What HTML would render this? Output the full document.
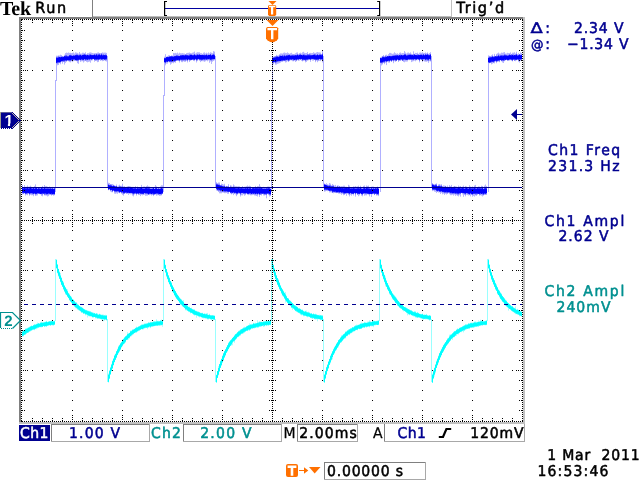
<!DOCTYPE html>
<html lang="en">
<head>
<meta charset="utf-8">
<title>Tek Run Trig'd</title>
<style>
html,body{margin:0;padding:0;background:#fff;width:640px;height:480px;overflow:hidden}
svg{position:absolute;left:0;top:0;will-change:transform}
</style>
</head>
<body>
<svg width="640" height="480" viewBox="0 0 640 480" style="display:block" text-rendering="geometricPrecision">
<rect x="0" y="0" width="640" height="480" fill="#fff" />
<g shape-rendering="crispEdges">
<rect x="19" y="17" width="506" height="2" fill="#808080" />
<rect x="19" y="17" width="2" height="407" fill="#808080" />
<rect x="19" y="422" width="506" height="2" fill="#c0c0c0" />
<rect x="523" y="17" width="2" height="407" fill="#c0c0c0" />
<rect x="93" y="16" width="359" height="1" fill="#bcbcbc" />
</g>
<defs><clipPath id="gc"><rect x="22" y="20" width="500" height="401"/></clipPath></defs>
<g clip-path="url(#gc)">
<g shape-rendering="crispEdges">
<rect x="55" y="80" width="1" height="112" fill="#b0b0ff" />
<rect x="56" y="60" width="1" height="21" fill="#b0b0ff" />
<rect x="163" y="95" width="1" height="97" fill="#b0b0ff" />
<rect x="164" y="60" width="1" height="36" fill="#b0b0ff" />
<rect x="271" y="102" width="1" height="90" fill="#b0b0ff" />
<rect x="272" y="60" width="1" height="43" fill="#b0b0ff" />
<rect x="380" y="60" width="1" height="132" fill="#b0b0ff" />
<rect x="488" y="60" width="1" height="132" fill="#b0b0ff" />
<rect x="107" y="56" width="1" height="18" fill="#b0b0ff" />
<rect x="107" y="70" width="1" height="118" fill="#b0b0ff" />
<rect x="215" y="56" width="1" height="18" fill="#b0b0ff" />
<rect x="215" y="70" width="1" height="118" fill="#b0b0ff" />
<rect x="323" y="56" width="1" height="18" fill="#b0b0ff" />
<rect x="323" y="70" width="1" height="118" fill="#b0b0ff" />
<rect x="431" y="56" width="1" height="18" fill="#b0b0ff" />
<rect x="431" y="70" width="1" height="118" fill="#b0b0ff" />
</g>
<path d="M22.5 185.0V194.6M23.5 187.8V194.1M24.5 185.1V193.6M25.5 186.8V195.5M26.5 186.7V194.7M27.5 185.5V195.2M28.5 186.7V193.4M29.5 186.6V195.7M30.5 185.7V194.8M31.5 186.8V195.3M32.5 188.1V195.2M33.5 187.0V196.2M34.5 186.1V194.3M35.5 184.4V196.0M36.5 186.9V195.6M37.5 188.4V195.4M38.5 187.3V193.9M39.5 187.7V194.2M40.5 187.2V194.2M41.5 187.6V195.9M42.5 185.9V196.3M43.5 188.3V194.2M44.5 185.0V195.5M45.5 186.3V195.5M46.5 186.2V195.7M47.5 186.7V196.5M48.5 187.5V196.1M49.5 186.5V195.1M50.5 187.1V194.9M51.5 187.9V195.7M52.5 186.9V194.7M53.5 187.3V195.7M54.5 187.9V195.2M56.5 55.7V64.4M57.5 55.8V65.3M58.5 55.4V65.0M59.5 55.5V63.2M60.5 54.7V64.3M61.5 55.1V61.5M62.5 56.3V63.7M63.5 56.3V61.9M64.5 54.7V64.6M65.5 53.1V62.9M66.5 52.6V61.9M67.5 52.9V61.0M68.5 52.5V61.3M69.5 52.9V62.1M70.5 52.8V62.4M71.5 53.1V61.2M72.5 52.9V62.1M73.5 52.5V61.2M74.5 53.5V61.0M75.5 52.4V60.7M76.5 52.6V61.2M77.5 52.9V63.2M78.5 53.6V63.8M79.5 52.0V60.2M80.5 53.5V61.9M81.5 53.5V61.3M82.5 52.7V61.2M83.5 52.7V62.5M84.5 53.0V61.4M85.5 52.3V60.7M86.5 54.0V61.8M87.5 53.1V62.3M88.5 53.2V61.9M89.5 52.5V61.6M90.5 52.4V62.7M91.5 52.7V60.6M92.5 53.0V60.3M93.5 53.3V59.2M94.5 53.1V61.7M95.5 53.1V60.9M96.5 53.4V61.1M97.5 52.6V62.2M98.5 52.4V61.9M99.5 53.1V60.0M100.5 53.1V60.9M101.5 52.9V60.4M102.5 52.4V61.2M103.5 52.7V61.0M104.5 52.6V60.4M105.5 52.6V61.1M106.5 52.9V61.5M108.5 182.7V190.2M109.5 183.0V189.6M110.5 184.4V191.5M111.5 184.0V192.2M112.5 184.0V192.3M113.5 184.6V190.7M114.5 185.2V193.6M115.5 185.8V193.8M116.5 184.5V193.4M117.5 186.4V193.8M118.5 185.6V192.8M119.5 184.7V193.2M120.5 185.8V192.6M121.5 185.8V193.6M122.5 183.7V194.8M123.5 186.4V195.7M124.5 186.0V194.0M125.5 186.9V193.1M126.5 186.7V193.5M127.5 186.3V193.9M128.5 186.0V194.9M129.5 186.1V194.0M130.5 186.4V194.3M131.5 186.8V194.2M132.5 186.8V195.6M133.5 186.8V196.4M134.5 187.1V194.5M135.5 186.1V193.8M136.5 187.4V195.6M137.5 186.5V193.8M138.5 187.3V195.1M139.5 187.9V195.0M140.5 187.3V196.1M141.5 184.9V194.9M142.5 186.9V195.4M143.5 186.5V194.8M144.5 186.4V194.7M145.5 186.8V195.8M146.5 186.1V195.7M147.5 185.4V195.6M148.5 186.3V194.8M149.5 186.5V195.2M150.5 187.4V194.6M151.5 188.4V195.6M152.5 187.4V194.9M153.5 187.8V196.1M154.5 186.9V194.8M155.5 185.1V194.6M156.5 186.4V195.7M157.5 187.3V195.3M158.5 187.2V195.2M159.5 188.3V195.9M160.5 186.4V195.7M161.5 185.3V195.4M162.5 185.4V193.8M164.5 56.7V63.7M165.5 54.2V65.3M166.5 56.9V63.6M167.5 56.5V63.6M168.5 55.3V62.2M169.5 55.3V62.5M170.5 56.1V64.7M171.5 55.3V63.6M172.5 55.6V62.6M173.5 53.0V63.3M174.5 53.2V62.3M175.5 52.9V62.8M176.5 53.3V61.0M177.5 52.6V61.0M178.5 53.6V61.1M179.5 52.7V62.5M180.5 53.2V60.8M181.5 53.3V62.1M182.5 53.1V62.2M183.5 53.4V61.3M184.5 53.5V61.8M185.5 54.0V61.8M186.5 53.1V60.9M187.5 52.9V62.4M188.5 52.8V60.2M189.5 52.5V62.0M190.5 53.0V60.7M191.5 53.2V60.3M192.5 52.7V59.8M193.5 52.4V60.9M194.5 51.6V61.2M195.5 53.5V60.0M196.5 52.7V62.5M197.5 52.2V61.1M198.5 52.3V60.1M199.5 52.3V60.8M200.5 53.2V62.1M201.5 53.2V61.2M202.5 53.8V61.2M203.5 52.7V61.3M204.5 52.4V61.8M205.5 53.4V61.3M206.5 52.7V60.5M207.5 53.4V61.3M208.5 52.4V60.4M209.5 53.4V62.8M210.5 52.3V61.5M211.5 52.7V64.0M212.5 53.2V61.7M213.5 51.1V61.0M214.5 51.6V60.3M216.5 182.2V190.5M217.5 183.2V190.6M218.5 182.5V192.0M219.5 182.5V193.3M220.5 184.9V193.3M221.5 183.6V193.3M222.5 184.0V192.5M223.5 184.5V192.7M224.5 183.8V193.2M225.5 186.2V193.2M226.5 185.9V193.0M227.5 186.4V193.8M228.5 184.2V193.9M229.5 187.2V192.0M230.5 185.2V193.5M231.5 185.6V194.4M232.5 186.5V193.7M233.5 184.4V195.1M234.5 185.5V193.7M235.5 186.2V194.4M236.5 186.2V196.2M237.5 186.4V194.7M238.5 186.2V193.9M239.5 186.3V193.9M240.5 188.1V196.5M241.5 187.2V195.3M242.5 186.0V195.4M243.5 187.3V194.3M244.5 186.7V195.7M245.5 186.6V195.1M246.5 186.2V193.5M247.5 185.5V194.7M248.5 186.2V195.2M249.5 185.7V194.7M250.5 186.1V195.3M251.5 188.4V195.3M252.5 187.0V195.1M253.5 187.0V194.9M254.5 187.6V195.5M255.5 185.9V195.6M256.5 187.1V196.0M257.5 186.1V196.5M258.5 186.2V194.6M259.5 184.2V196.9M260.5 186.4V195.0M261.5 187.6V195.5M262.5 187.9V194.0M263.5 186.8V195.4M264.5 187.0V195.5M265.5 188.4V195.1M266.5 187.6V198.3M267.5 186.6V194.0M268.5 186.5V195.1M269.5 186.7V196.5M270.5 187.7V196.0M272.5 56.3V64.5M273.5 56.7V64.3M274.5 56.0V63.1M275.5 56.1V64.7M276.5 54.8V64.6M277.5 55.6V63.9M278.5 55.4V63.5M279.5 54.3V63.2M280.5 53.4V62.6M281.5 53.4V61.9M282.5 53.5V61.9M283.5 52.8V61.2M284.5 52.5V61.2M285.5 52.9V62.5M286.5 53.1V62.2M287.5 52.4V61.2M288.5 53.1V61.9M289.5 53.7V61.1M290.5 53.2V60.3M291.5 52.8V60.5M292.5 53.8V61.2M293.5 54.0V61.3M294.5 53.9V60.5M295.5 53.3V62.0M296.5 52.6V61.2M297.5 52.4V60.2M298.5 53.9V60.9M299.5 53.1V60.5M300.5 52.7V60.0M301.5 53.4V60.8M302.5 52.3V61.4M303.5 51.8V60.9M304.5 52.8V60.6M305.5 53.1V62.4M306.5 53.0V61.9M307.5 52.0V60.6M308.5 53.9V60.3M309.5 53.0V60.0M310.5 52.9V61.8M311.5 53.1V60.0M312.5 53.0V60.6M313.5 52.2V60.6M314.5 52.8V59.7M315.5 52.9V62.2M316.5 52.4V60.7M317.5 52.0V62.2M318.5 52.4V61.1M319.5 52.4V60.8M320.5 52.6V61.1M321.5 54.0V59.7M322.5 50.7V62.4M324.5 183.5V191.7M325.5 184.0V191.4M326.5 183.2V191.0M327.5 184.2V191.2M328.5 184.7V190.6M329.5 183.0V192.5M330.5 183.6V192.3M331.5 185.3V192.4M332.5 184.0V193.0M333.5 184.8V193.3M334.5 185.6V192.6M335.5 184.9V192.7M336.5 186.4V193.1M337.5 185.4V192.7M338.5 185.5V193.6M339.5 186.1V193.7M340.5 186.4V193.7M341.5 186.1V194.8M342.5 186.2V193.9M343.5 185.7V195.2M344.5 185.7V194.8M345.5 186.7V193.8M346.5 186.7V195.8M347.5 187.1V193.4M348.5 184.8V194.8M349.5 185.6V196.4M350.5 187.9V194.7M351.5 187.1V195.7M352.5 187.4V194.3M353.5 186.3V195.5M354.5 186.7V193.7M355.5 186.0V196.6M356.5 186.7V193.4M357.5 186.4V195.0M358.5 185.7V196.2M359.5 187.3V195.3M360.5 185.8V193.6M361.5 188.0V195.7M362.5 187.6V196.3M363.5 185.9V193.6M364.5 185.5V195.7M365.5 187.8V195.3M366.5 185.5V195.4M367.5 185.9V194.3M368.5 185.6V194.7M369.5 187.6V196.4M370.5 187.3V194.2M371.5 186.7V197.0M372.5 186.5V194.3M373.5 186.6V193.9M374.5 187.6V195.1M375.5 188.0V193.9M376.5 187.1V195.6M377.5 186.6V195.4M378.5 188.6V196.1M380.5 57.5V64.5M381.5 56.7V65.5M382.5 56.0V64.5M383.5 55.0V63.0M384.5 56.0V64.2M385.5 54.9V62.7M386.5 54.7V65.1M387.5 55.6V61.5M388.5 54.1V62.6M389.5 52.9V62.7M390.5 52.9V61.1M391.5 53.4V61.8M392.5 53.8V60.9M393.5 53.5V63.2M394.5 52.3V61.2M395.5 53.2V61.9M396.5 53.7V61.1M397.5 53.3V59.7M398.5 54.1V62.0M399.5 52.8V60.4M400.5 52.5V61.0M401.5 53.4V60.2M402.5 53.0V61.0M403.5 53.1V61.9M404.5 51.1V62.3M405.5 52.5V61.6M406.5 53.5V61.6M407.5 52.7V61.5M408.5 52.5V60.1M409.5 53.1V60.2M410.5 52.4V59.7M411.5 53.7V62.1M412.5 54.0V61.5M413.5 51.3V61.2M414.5 53.7V60.6M415.5 52.9V61.3M416.5 53.0V60.3M417.5 52.6V60.2M418.5 53.8V59.9M419.5 52.7V62.4M420.5 52.5V60.1M421.5 52.8V60.0M422.5 52.3V62.1M423.5 52.9V60.8M424.5 53.0V61.5M425.5 52.5V61.7M426.5 53.2V61.8M427.5 52.4V61.3M428.5 53.8V62.9M429.5 53.0V61.2M430.5 52.2V61.5M432.5 183.2V191.1M433.5 184.1V190.6M434.5 184.3V191.6M435.5 183.9V191.9M436.5 183.4V193.0M437.5 186.2V191.9M438.5 184.4V192.6M439.5 184.0V192.4M440.5 184.6V194.0M441.5 184.2V192.8M442.5 186.5V194.3M443.5 185.4V193.7M444.5 185.6V194.9M445.5 185.8V193.8M446.5 186.7V194.5M447.5 185.5V193.7M448.5 186.9V193.2M449.5 185.1V194.2M450.5 186.1V195.2M451.5 184.9V195.2M452.5 187.7V194.7M453.5 186.6V195.6M454.5 186.0V194.6M455.5 186.3V195.9M456.5 186.5V195.2M457.5 187.2V195.9M458.5 185.6V196.4M459.5 186.5V195.2M460.5 186.0V196.6M461.5 187.2V193.1M462.5 186.6V194.4M463.5 185.6V196.8M464.5 187.0V195.0M465.5 186.0V196.3M466.5 186.5V194.7M467.5 187.7V195.1M468.5 187.3V195.5M469.5 185.3V195.2M470.5 186.6V196.4M471.5 187.5V194.7M472.5 186.4V196.7M473.5 188.2V195.9M474.5 185.5V196.6M475.5 184.9V195.5M476.5 187.2V195.9M477.5 187.8V194.6M478.5 186.4V194.0M479.5 186.6V195.6M480.5 187.7V195.3M481.5 185.7V195.7M482.5 186.0V196.5M483.5 187.4V195.5M484.5 185.7V194.4M485.5 184.5V194.6M486.5 186.0V195.0M488.5 55.4V63.6M489.5 55.8V63.3M490.5 56.4V62.6M491.5 55.4V64.4M492.5 54.4V63.7M493.5 56.1V63.1M494.5 53.9V63.4M495.5 56.0V61.6M496.5 53.9V63.2M497.5 53.3V61.7M498.5 52.6V61.3M499.5 53.6V62.2M500.5 53.5V60.4M501.5 52.6V61.2M502.5 52.8V62.5M503.5 52.4V63.0M504.5 52.1V61.2M505.5 53.5V60.3M506.5 53.5V59.8M507.5 52.8V60.6M508.5 53.1V60.9M509.5 53.1V60.2M510.5 52.4V60.2M511.5 53.9V60.6M512.5 52.7V61.4M513.5 52.7V59.9M514.5 52.3V60.9M515.5 53.5V61.2M516.5 51.8V60.4M517.5 54.0V60.0M518.5 53.2V61.7M519.5 54.0V62.6M520.5 52.3V60.8M521.5 53.0V60.0" stroke="#b4b4ff" stroke-width="1" fill="none"/>
<path d="M22.5 187.5V192.7M23.5 188.0V193.6M24.5 187.0V193.0M25.5 188.2V194.1M26.5 188.0V193.7M27.5 187.4V193.6M28.5 187.8V193.3M29.5 187.9V194.4M30.5 187.2V193.3M31.5 187.8V193.3M32.5 188.3V194.2M33.5 187.8V194.2M34.5 188.5V193.8M35.5 187.6V194.5M36.5 187.7V194.2M37.5 188.8V193.3M38.5 188.1V193.6M39.5 188.5V193.6M40.5 188.4V194.1M41.5 187.9V194.2M42.5 187.8V194.5M43.5 188.4V193.6M44.5 187.1V194.7M45.5 188.1V194.4M46.5 187.9V194.7M47.5 187.6V194.4M48.5 187.9V194.3M49.5 188.6V193.7M50.5 187.7V194.2M51.5 188.7V194.7M52.5 188.1V194.7M53.5 188.9V194.5M54.5 188.5V194.6M56.5 57.0V63.3M57.5 57.3V63.4M58.5 56.5V62.5M59.5 56.9V62.9M60.5 56.9V62.4M61.5 56.7V61.5M62.5 56.4V61.5M63.5 56.9V61.6M64.5 56.0V61.6M65.5 55.3V60.9M66.5 55.2V60.8M67.5 56.1V60.4M68.5 56.4V60.8M69.5 55.0V61.0M70.5 54.8V60.7M71.5 55.0V60.6M72.5 55.7V60.9M73.5 55.3V59.9M74.5 55.6V59.7M75.5 54.9V60.4M76.5 54.4V60.8M77.5 54.5V60.9M78.5 55.1V60.6M79.5 54.6V59.6M80.5 54.5V60.3M81.5 55.4V60.0M82.5 54.8V60.2M83.5 54.8V60.3M84.5 54.1V59.3M85.5 54.6V60.6M86.5 55.1V60.2M87.5 54.7V60.1M88.5 55.3V59.9M89.5 54.3V60.2M90.5 54.1V59.4M91.5 54.8V60.0M92.5 55.0V59.2M93.5 54.9V59.0M94.5 54.3V59.9M95.5 54.7V60.3M96.5 53.7V59.6M97.5 54.4V60.1M98.5 53.9V60.2M99.5 53.7V59.7M100.5 54.8V59.5M101.5 53.6V59.9M102.5 54.7V59.7M103.5 54.4V59.3M104.5 55.0V59.7M105.5 54.5V60.2M106.5 55.0V59.9M108.5 184.2V189.4M109.5 185.1V189.3M110.5 184.5V190.5M111.5 184.9V189.9M112.5 186.0V191.6M113.5 185.2V190.7M114.5 186.2V191.5M115.5 186.2V192.1M116.5 186.1V191.7M117.5 187.1V191.7M118.5 187.1V191.8M119.5 186.2V192.9M120.5 186.4V192.0M121.5 186.9V193.1M122.5 186.5V192.8M123.5 187.2V193.8M124.5 187.3V193.5M125.5 187.3V193.1M126.5 187.9V193.4M127.5 187.8V193.0M128.5 186.9V193.0M129.5 188.1V193.0M130.5 187.6V192.9M131.5 187.4V193.0M132.5 187.1V193.5M133.5 188.2V194.5M134.5 187.5V194.0M135.5 188.1V193.7M136.5 188.6V194.2M137.5 187.5V193.7M138.5 187.7V194.1M139.5 188.0V193.6M140.5 188.1V194.0M141.5 187.0V193.8M142.5 187.7V193.8M143.5 188.5V194.3M144.5 188.5V193.2M145.5 187.6V193.9M146.5 187.0V193.9M147.5 187.6V193.9M148.5 187.7V194.8M149.5 187.6V193.7M150.5 188.7V194.1M151.5 188.6V194.2M152.5 188.7V194.2M153.5 187.9V194.9M154.5 189.0V194.5M155.5 187.6V194.0M156.5 187.4V194.1M157.5 188.9V193.8M158.5 188.3V194.6M159.5 188.9V194.3M160.5 188.4V194.3M161.5 187.2V194.5M162.5 188.1V193.5M164.5 58.3V62.3M165.5 57.8V63.3M166.5 56.9V61.7M167.5 56.7V61.9M168.5 56.9V61.3M169.5 56.2V61.6M170.5 56.3V62.1M171.5 56.4V61.9M172.5 56.3V62.1M173.5 56.6V61.6M174.5 56.2V61.8M175.5 55.9V61.2M176.5 55.1V60.7M177.5 55.2V60.3M178.5 55.7V60.4M179.5 56.0V60.8M180.5 55.3V60.0M181.5 55.3V60.5M182.5 55.1V60.5M183.5 55.0V60.4M184.5 55.1V60.3M185.5 54.6V60.6M186.5 54.7V59.8M187.5 55.2V60.7M188.5 55.3V59.3M189.5 54.4V60.3M190.5 54.3V60.2M191.5 54.4V60.0M192.5 55.1V59.8M193.5 54.9V60.1M194.5 54.0V59.9M195.5 55.2V59.2M196.5 54.7V60.6M197.5 54.1V59.8M198.5 54.6V59.0M199.5 54.2V60.0M200.5 55.0V60.1M201.5 55.1V60.5M202.5 54.8V60.0M203.5 54.9V59.8M204.5 54.5V60.2M205.5 55.1V59.9M206.5 54.2V60.0M207.5 55.4V59.8M208.5 54.7V59.5M209.5 54.9V59.7M210.5 54.1V60.1M211.5 55.4V60.5M212.5 54.8V59.8M213.5 53.8V59.4M214.5 54.6V59.2M216.5 183.6V189.1M217.5 183.9V190.4M218.5 184.4V190.7M219.5 184.5V190.6M220.5 185.0V191.4M221.5 185.1V191.3M222.5 186.1V192.0M223.5 186.3V191.7M224.5 185.8V192.1M225.5 187.0V192.0M226.5 186.2V191.6M227.5 186.5V191.6M228.5 186.3V192.2M229.5 187.4V191.8M230.5 186.5V192.7M231.5 187.1V193.5M232.5 187.0V192.9M233.5 186.6V192.9M234.5 187.1V193.5M235.5 188.1V193.0M236.5 188.2V194.3M237.5 187.4V194.0M238.5 187.7V192.7M239.5 188.2V193.2M240.5 188.2V194.6M241.5 188.0V193.1M242.5 187.6V193.0M243.5 188.5V193.8M244.5 188.4V193.5M245.5 187.9V193.5M246.5 187.8V193.4M247.5 187.5V193.7M248.5 188.3V193.9M249.5 187.6V194.0M250.5 187.2V194.2M251.5 188.7V194.1M252.5 188.3V193.9M253.5 188.1V193.8M254.5 187.9V194.2M255.5 187.8V194.4M256.5 188.0V193.8M257.5 188.2V194.5M258.5 187.8V193.5M259.5 187.6V194.9M260.5 187.8V194.5M261.5 187.8V194.2M262.5 188.2V193.8M263.5 188.7V194.0M264.5 188.3V194.5M265.5 188.4V194.4M266.5 188.2V194.8M267.5 188.2V193.8M268.5 188.0V193.8M269.5 187.7V194.8M270.5 189.0V194.9M272.5 57.2V63.6M273.5 57.4V62.6M274.5 57.3V61.8M275.5 56.5V63.1M276.5 56.0V62.4M277.5 56.3V61.8M278.5 56.6V61.6M279.5 55.5V61.4M280.5 55.4V61.1M281.5 55.8V60.8M282.5 54.9V61.0M283.5 55.5V60.8M284.5 54.7V60.9M285.5 55.6V60.8M286.5 55.4V60.2M287.5 54.8V60.2M288.5 54.9V61.2M289.5 54.7V60.4M290.5 55.4V59.6M291.5 55.5V59.7M292.5 54.9V59.6M293.5 54.8V60.5M294.5 55.1V60.2M295.5 55.0V60.1M296.5 55.1V60.5M297.5 54.2V59.4M298.5 55.3V60.0M299.5 54.6V59.1M300.5 54.0V59.6M301.5 55.0V59.1M302.5 54.8V60.5M303.5 54.5V59.6M304.5 54.5V59.8M305.5 55.0V60.8M306.5 55.0V60.1M307.5 54.2V60.1M308.5 54.5V59.7M309.5 54.2V59.2M310.5 54.7V59.9M311.5 55.0V59.1M312.5 55.1V58.9M313.5 54.5V59.4M314.5 54.4V59.6M315.5 54.4V60.4M316.5 55.0V59.9M317.5 54.0V60.2M318.5 55.2V60.1M319.5 54.3V58.9M320.5 54.4V59.6M321.5 54.6V59.5M322.5 53.5V60.7M324.5 184.1V190.2M325.5 184.8V190.1M326.5 185.2V189.8M327.5 185.3V189.9M328.5 185.6V190.4M329.5 185.2V190.9M330.5 185.3V191.2M331.5 186.0V190.8M332.5 185.9V192.7M333.5 185.7V191.7M334.5 187.3V192.3M335.5 186.9V192.5M336.5 187.2V192.8M337.5 186.1V192.3M338.5 187.0V192.7M339.5 186.3V192.9M340.5 187.4V192.4M341.5 187.8V192.6M342.5 187.5V192.7M343.5 187.4V193.8M344.5 187.2V194.2M345.5 187.6V193.6M346.5 187.2V193.2M347.5 187.5V193.3M348.5 186.9V193.5M349.5 187.7V194.4M350.5 188.5V193.1M351.5 187.5V194.0M352.5 187.7V193.9M353.5 188.0V194.0M354.5 188.0V192.9M355.5 188.6V194.4M356.5 188.4V193.2M357.5 187.8V194.3M358.5 187.4V194.0M359.5 188.3V193.8M360.5 187.2V193.3M361.5 188.4V194.1M362.5 188.7V194.9M363.5 187.5V193.5M364.5 187.6V193.6M365.5 188.3V193.6M366.5 187.4V193.5M367.5 187.9V194.0M368.5 187.6V193.9M369.5 187.7V194.3M370.5 188.8V194.0M371.5 187.2V194.0M372.5 188.7V193.6M373.5 188.1V193.5M374.5 188.4V194.6M375.5 188.2V193.8M376.5 188.6V194.4M377.5 187.3V194.5M378.5 188.6V194.8M380.5 57.8V62.7M381.5 57.9V63.2M382.5 56.6V63.2M383.5 56.5V62.3M384.5 57.1V62.6M385.5 56.1V61.5M386.5 56.5V62.1M387.5 56.1V61.3M388.5 56.3V61.1M389.5 55.9V61.6M390.5 56.1V60.7M391.5 56.2V61.4M392.5 55.6V60.2M393.5 55.3V61.1M394.5 55.1V60.1M395.5 55.1V60.9M396.5 54.9V61.0M397.5 55.1V59.5M398.5 55.1V60.5M399.5 55.1V60.4M400.5 54.6V60.1M401.5 54.9V59.4M402.5 55.3V60.9M403.5 55.0V60.3M404.5 53.9V59.5M405.5 54.0V60.1M406.5 55.4V59.9M407.5 54.7V59.9M408.5 54.5V59.4M409.5 54.7V59.7M410.5 54.2V59.4M411.5 54.7V60.0M412.5 55.0V59.5M413.5 54.4V59.8M414.5 54.0V59.3M415.5 55.0V59.8M416.5 55.1V59.6M417.5 54.4V59.0M418.5 54.6V59.5M419.5 55.1V60.7M420.5 54.6V58.9M421.5 54.3V59.9M422.5 54.7V60.3M423.5 54.2V59.2M424.5 55.1V59.3M425.5 53.9V60.3M426.5 54.7V60.2M427.5 53.7V60.4M428.5 54.6V60.7M429.5 54.8V59.2M430.5 54.0V60.6M432.5 183.9V190.0M433.5 184.6V189.8M434.5 185.3V190.2M435.5 184.5V189.8M436.5 184.5V190.9M437.5 186.2V191.5M438.5 185.7V190.7M439.5 185.4V191.5M440.5 186.1V192.0M441.5 185.5V191.8M442.5 186.8V192.2M443.5 187.0V192.3M444.5 187.0V193.1M445.5 186.2V192.6M446.5 187.0V192.9M447.5 187.6V193.3M448.5 187.5V192.4M449.5 186.9V192.8M450.5 187.6V193.5M451.5 187.2V193.5M452.5 187.8V193.5M453.5 188.0V193.5M454.5 186.7V193.7M455.5 187.8V193.9M456.5 188.0V194.0M457.5 187.5V194.4M458.5 187.0V194.5M459.5 187.8V193.4M460.5 187.8V194.0M461.5 187.8V193.0M462.5 187.1V193.0M463.5 187.4V193.3M464.5 188.4V193.4M465.5 188.2V194.5M466.5 187.5V193.2M467.5 188.2V193.5M468.5 188.5V194.0M469.5 187.3V194.7M470.5 188.0V193.5M471.5 187.7V194.4M472.5 187.5V194.9M473.5 188.3V193.9M474.5 187.3V194.0M475.5 188.5V194.5M476.5 188.2V194.5M477.5 188.1V194.2M478.5 188.0V193.9M479.5 188.2V194.6M480.5 188.2V194.4M481.5 188.4V194.0M482.5 187.4V194.5M483.5 188.9V195.1M484.5 187.7V194.4M485.5 187.6V194.4M486.5 187.8V193.3M488.5 57.5V62.4M489.5 56.6V62.7M490.5 56.6V62.4M491.5 56.8V62.4M492.5 55.9V61.8M493.5 56.7V62.5M494.5 55.9V61.8M495.5 56.1V61.1M496.5 55.7V62.0M497.5 56.0V61.3M498.5 54.7V61.2M499.5 55.7V61.3M500.5 55.4V60.0M501.5 55.1V61.1M502.5 55.0V60.8M503.5 55.3V61.0M504.5 54.4V60.6M505.5 54.7V60.1M506.5 55.4V59.5M507.5 55.5V60.4M508.5 55.3V60.1M509.5 54.3V60.2M510.5 55.1V59.7M511.5 54.4V60.1M512.5 54.8V60.9M513.5 54.6V59.8M514.5 55.0V60.5M515.5 54.6V59.9M516.5 53.8V60.0M517.5 55.6V59.6M518.5 55.3V60.6M519.5 54.5V60.4M520.5 54.9V60.0M521.5 54.5V59.7" stroke="#5c5cff" stroke-width="1" fill="none"/>
<path d="M22.5 188.3V192.6M23.5 188.5V192.6M24.5 188.1V192.9M25.5 188.4V193.4M26.5 188.5V193.3M27.5 188.1V192.9M28.5 188.7V193.1M29.5 188.3V193.6M30.5 188.0V193.3M31.5 188.6V193.2M32.5 188.8V193.1M33.5 188.2V193.7M34.5 188.8V193.2M35.5 188.4V193.8M36.5 188.2V193.7M37.5 188.8V193.3M38.5 188.4V193.2M39.5 188.6V193.5M40.5 189.0V193.9M41.5 188.2V193.7M42.5 188.7V193.3M43.5 188.8V193.6M44.5 188.2V193.5M45.5 188.9V193.3M46.5 189.0V193.8M47.5 188.8V193.9M48.5 188.9V193.3M49.5 188.7V193.7M50.5 188.7V194.0M51.5 188.8V193.6M52.5 188.7V194.0M53.5 189.1V193.9M54.5 188.6V193.9M56.5 58.1V62.8M57.5 57.9V62.3M58.5 57.5V62.3M59.5 57.1V62.0M60.5 57.4V61.8M61.5 56.9V61.1M62.5 57.2V60.9M63.5 56.9V60.6M64.5 56.2V60.5M65.5 56.4V60.2M66.5 56.3V60.5M67.5 56.5V60.0M68.5 56.4V60.0M69.5 55.6V60.0M70.5 55.5V60.2M71.5 56.0V59.5M72.5 56.0V59.8M73.5 55.7V59.3M74.5 55.7V59.3M75.5 55.3V60.0M76.5 55.2V60.0M77.5 55.2V59.9M78.5 55.7V59.8M79.5 55.4V59.5M80.5 55.1V59.9M81.5 55.7V59.1M82.5 55.1V59.6M83.5 54.8V59.8M84.5 54.8V59.1M85.5 54.9V59.5M86.5 55.5V59.2M87.5 55.0V59.7M88.5 55.4V58.9M89.5 55.4V59.2M90.5 55.0V58.9M91.5 55.2V59.1M92.5 55.2V58.9M93.5 55.2V58.9M94.5 54.8V59.5M95.5 55.4V59.2M96.5 54.7V59.5M97.5 55.6V59.1M98.5 55.1V59.4M99.5 54.8V59.0M100.5 55.4V58.8M101.5 54.7V59.3M102.5 55.5V59.2M103.5 55.2V59.1M104.5 55.2V59.5M105.5 55.3V59.1M106.5 55.5V58.8M108.5 185.0V189.4M109.5 185.4V188.9M110.5 185.5V190.0M111.5 185.9V189.9M112.5 186.3V190.7M113.5 186.0V190.3M114.5 186.2V191.2M115.5 186.8V191.0M116.5 186.5V191.3M117.5 187.1V191.0M118.5 187.3V191.2M119.5 187.1V191.9M120.5 187.2V191.8M121.5 187.4V191.9M122.5 187.1V191.8M123.5 187.9V192.7M124.5 187.5V192.8M125.5 188.1V192.3M126.5 188.2V192.4M127.5 187.9V192.8M128.5 187.6V192.6M129.5 188.3V193.0M130.5 187.8V192.9M131.5 188.0V192.9M132.5 188.2V193.3M133.5 188.6V193.5M134.5 188.5V193.0M135.5 188.4V192.8M136.5 188.8V193.5M137.5 188.3V193.2M138.5 188.6V193.5M139.5 188.5V193.0M140.5 188.2V193.4M141.5 188.0V193.6M142.5 188.8V193.7M143.5 188.7V193.7M144.5 188.7V193.0M145.5 188.3V193.1M146.5 188.2V193.1M147.5 188.5V193.4M148.5 188.4V194.0M149.5 188.6V193.6M150.5 188.9V193.4M151.5 188.9V194.0M152.5 188.7V193.4M153.5 188.2V193.8M154.5 189.0V193.9M155.5 188.6V193.7M156.5 188.4V193.2M157.5 189.0V193.4M158.5 188.8V193.7M159.5 188.9V194.0M160.5 188.8V194.0M161.5 188.2V193.6M162.5 188.8V193.4M164.5 58.3V62.2M165.5 58.3V62.3M166.5 57.2V61.6M167.5 57.1V61.8M168.5 57.2V61.0M169.5 56.9V61.5M170.5 56.6V61.1M171.5 56.4V61.3M172.5 56.6V61.0M173.5 56.7V60.7M174.5 56.3V60.8M175.5 56.2V60.6M176.5 56.1V59.9M177.5 56.2V60.0M178.5 56.1V59.8M179.5 56.1V60.3M180.5 55.6V59.5M181.5 55.5V59.7M182.5 55.3V59.6M183.5 55.4V59.6M184.5 55.7V59.5M185.5 55.2V59.5M186.5 55.4V59.2M187.5 55.4V59.9M188.5 55.7V59.3M189.5 55.6V59.6M190.5 55.0V59.7M191.5 55.0V59.7M192.5 55.4V59.2M193.5 55.4V59.3M194.5 54.9V59.7M195.5 55.4V58.9M196.5 55.5V59.6M197.5 55.0V59.3M198.5 55.2V58.9M199.5 54.8V59.2M200.5 55.0V59.4M201.5 55.1V59.6M202.5 55.1V59.5M203.5 55.2V59.2M204.5 55.3V59.3M205.5 55.3V58.8M206.5 55.0V59.3M207.5 55.5V58.9M208.5 55.0V59.0M209.5 55.0V58.8M210.5 54.7V59.6M211.5 55.5V59.3M212.5 54.9V58.9M213.5 54.9V59.1M214.5 55.4V59.0M216.5 184.6V188.7M217.5 184.8V189.7M218.5 185.1V189.5M219.5 185.3V189.9M220.5 186.0V190.4M221.5 186.1V190.3M222.5 186.3V191.1M223.5 186.6V190.8M224.5 186.5V191.0M225.5 187.2V191.1M226.5 187.4V191.2M227.5 187.1V191.6M228.5 187.2V191.7M229.5 187.6V191.6M230.5 187.6V192.6M231.5 187.8V192.4M232.5 187.3V192.8M233.5 187.5V192.1M234.5 187.5V192.8M235.5 188.3V192.7M236.5 188.4V193.1M237.5 188.4V193.2M238.5 188.0V192.6M239.5 188.4V192.9M240.5 188.4V193.4M241.5 188.3V192.9M242.5 188.6V192.9M243.5 188.5V192.9M244.5 188.6V193.3M245.5 188.3V193.3M246.5 188.7V192.9M247.5 188.1V193.7M248.5 188.7V193.7M249.5 188.4V193.0M250.5 188.3V193.0M251.5 188.9V193.9M252.5 188.3V193.2M253.5 188.2V193.7M254.5 188.6V193.2M255.5 188.3V193.9M256.5 188.3V193.4M257.5 188.3V193.9M258.5 188.5V193.4M259.5 188.3V194.0M260.5 188.4V193.4M261.5 188.2V193.4M262.5 188.8V193.6M263.5 188.8V193.4M264.5 188.9V193.8M265.5 188.9V193.7M266.5 188.6V193.6M267.5 188.7V193.3M268.5 188.4V193.4M269.5 188.6V193.9M270.5 189.0V194.0M272.5 58.2V62.8M273.5 58.0V62.1M274.5 57.6V61.7M275.5 57.5V62.0M276.5 57.1V61.4M277.5 56.8V61.1M278.5 57.1V60.9M279.5 56.6V61.0M280.5 56.0V61.0M281.5 56.0V60.5M282.5 56.1V60.3M283.5 56.5V60.1M284.5 55.9V60.2M285.5 56.3V59.8M286.5 55.6V59.9M287.5 55.8V59.5M288.5 55.3V60.2M289.5 55.2V59.5M290.5 55.8V59.4M291.5 55.6V59.6M292.5 55.7V59.2M293.5 55.8V59.5M294.5 55.7V59.9M295.5 55.3V59.4M296.5 55.5V59.7M297.5 55.0V59.3M298.5 55.5V59.2M299.5 54.9V59.0M300.5 55.1V59.1M301.5 55.0V58.9M302.5 55.5V59.6M303.5 54.9V59.6M304.5 55.4V59.7M305.5 55.5V59.7M306.5 55.6V59.4M307.5 55.4V59.3M308.5 55.3V58.9M309.5 55.3V59.1M310.5 55.4V59.4M311.5 55.4V58.8M312.5 55.2V58.9M313.5 55.0V58.9M314.5 54.7V59.3M315.5 55.4V59.3M316.5 55.4V59.5M317.5 55.0V59.3M318.5 55.3V59.3M319.5 55.1V58.9M320.5 54.9V59.2M321.5 55.3V59.1M322.5 54.7V59.5M324.5 184.7V189.4M325.5 184.9V189.3M326.5 185.3V189.6M327.5 185.9V189.6M328.5 186.3V190.3M329.5 186.1V190.7M330.5 186.5V190.5M331.5 186.7V190.6M332.5 186.6V191.6M333.5 186.7V191.6M334.5 187.5V191.7M335.5 187.4V191.5M336.5 187.6V192.0M337.5 187.3V192.3M338.5 187.3V191.8M339.5 187.3V192.2M340.5 187.6V192.0M341.5 188.2V192.6M342.5 188.1V192.4M343.5 188.4V192.7M344.5 188.2V193.0M345.5 188.1V193.0M346.5 187.7V192.9M347.5 188.2V192.9M348.5 188.0V193.1M349.5 188.2V193.5M350.5 188.5V192.9M351.5 188.6V193.3M352.5 188.7V193.5M353.5 188.2V193.6M354.5 188.5V192.9M355.5 188.6V193.3M356.5 188.6V193.0M357.5 188.4V193.5M358.5 188.3V193.6M359.5 188.5V193.8M360.5 188.1V193.2M361.5 188.8V193.9M362.5 189.0V193.8M363.5 188.6V193.4M364.5 188.2V193.1M365.5 188.8V193.3M366.5 188.1V193.3M367.5 188.3V193.4M368.5 188.6V193.7M369.5 188.9V193.9M370.5 188.9V193.8M371.5 188.4V194.0M372.5 188.9V193.6M373.5 188.6V193.3M374.5 189.0V193.5M375.5 188.4V193.5M376.5 188.6V193.5M377.5 188.2V194.0M378.5 188.7V193.6M380.5 58.1V62.5M381.5 58.3V62.4M382.5 57.3V62.0M383.5 57.2V61.6M384.5 57.4V61.5M385.5 57.2V60.9M386.5 57.0V61.3M387.5 56.3V61.1M388.5 56.4V60.6M389.5 56.0V60.8M390.5 56.3V60.0M391.5 56.3V60.6M392.5 56.1V59.8M393.5 56.0V60.0M394.5 56.0V59.6M395.5 55.7V59.9M396.5 55.7V60.1M397.5 55.4V59.4M398.5 56.0V59.9M399.5 55.2V60.0M400.5 55.6V59.4M401.5 55.1V59.3M402.5 55.5V59.8M403.5 55.3V59.3M404.5 54.9V59.4M405.5 54.9V59.5M406.5 55.6V59.8M407.5 55.5V59.7M408.5 55.2V59.2M409.5 54.8V59.2M410.5 55.0V59.3M411.5 55.2V59.1M412.5 55.1V59.3M413.5 55.6V59.4M414.5 54.9V59.0M415.5 55.1V59.2M416.5 55.2V59.4M417.5 55.4V58.9M418.5 55.1V59.2M419.5 55.1V59.6M420.5 54.9V58.9M421.5 55.0V59.0M422.5 55.5V59.3M423.5 54.7V59.1M424.5 55.4V58.9M425.5 54.8V59.6M426.5 54.9V59.0M427.5 54.7V59.4M428.5 55.3V59.6M429.5 55.3V58.9M430.5 54.8V59.4M432.5 184.9V189.1M433.5 185.2V189.4M434.5 185.6V189.3M435.5 185.5V189.6M436.5 185.6V190.4M437.5 186.4V190.8M438.5 186.1V190.6M439.5 186.2V191.4M440.5 186.6V191.3M441.5 186.5V191.0M442.5 186.8V191.8M443.5 187.1V191.8M444.5 187.5V191.9M445.5 187.0V192.2M446.5 187.7V191.8M447.5 188.0V192.1M448.5 188.0V192.2M449.5 188.0V192.2M450.5 188.2V192.8M451.5 187.6V192.7M452.5 188.1V193.2M453.5 188.1V193.1M454.5 187.9V192.8M455.5 188.4V193.3M456.5 188.6V192.9M457.5 188.4V193.4M458.5 187.9V193.5M459.5 188.1V193.3M460.5 188.6V192.9M461.5 188.5V192.8M462.5 188.1V192.9M463.5 188.4V193.1M464.5 188.9V193.4M465.5 188.4V193.5M466.5 188.0V193.0M467.5 188.6V193.2M468.5 188.8V193.6M469.5 188.1V193.9M470.5 188.4V193.3M471.5 188.7V193.9M472.5 188.6V194.0M473.5 188.5V193.6M474.5 188.1V193.5M475.5 188.5V193.5M476.5 189.0V193.4M477.5 188.2V193.5M478.5 188.5V193.8M479.5 188.4V193.8M480.5 188.5V193.2M481.5 188.5V193.9M482.5 188.2V193.4M483.5 189.1V193.9M484.5 188.6V193.3M485.5 188.3V193.7M486.5 188.7V193.2M488.5 58.0V62.3M489.5 57.7V62.6M490.5 57.5V62.4M491.5 57.3V61.6M492.5 56.8V61.7M493.5 57.2V61.6M494.5 57.1V61.0M495.5 56.4V60.6M496.5 56.6V60.9M497.5 56.5V60.7M498.5 55.8V60.3M499.5 56.5V60.1M500.5 55.8V60.0M501.5 55.8V60.2M502.5 56.2V60.0M503.5 55.8V60.1M504.5 55.4V59.6M505.5 55.5V59.9M506.5 55.5V59.5M507.5 55.8V59.9M508.5 55.6V59.9M509.5 55.1V59.2M510.5 55.2V59.2M511.5 55.5V59.5M512.5 54.9V59.8M513.5 55.7V59.2M514.5 55.1V59.3M515.5 55.3V59.6M516.5 54.8V59.6M517.5 55.6V59.1M518.5 55.3V59.5M519.5 54.7V59.4M520.5 55.3V59.2M521.5 55.1V59.1" stroke="#0000ff" stroke-width="1" fill="none"/>
<g shape-rendering="crispEdges">
<rect x="55" y="259" width="1" height="62" fill="#9affff" />
<rect x="163" y="259" width="1" height="62" fill="#9affff" />
<rect x="271" y="259" width="1" height="62" fill="#9affff" />
<rect x="379" y="259" width="1" height="62" fill="#9affff" />
<rect x="487" y="259" width="1" height="62" fill="#9affff" />
<rect x="107" y="319" width="1" height="63" fill="#9affff" />
<rect x="215" y="319" width="1" height="63" fill="#9affff" />
<rect x="323" y="319" width="1" height="63" fill="#9affff" />
<rect x="431" y="319" width="1" height="63" fill="#9affff" />
</g>
<path d="M22.5 331.0V336.2M23.5 330.2V336.5M24.5 330.0V334.9M25.5 328.4V334.9M26.5 328.1V334.0M27.5 327.7V332.8M28.5 327.3V332.7M29.5 326.6V331.7M30.5 326.0V331.5M31.5 325.7V330.7M32.5 325.9V330.2M33.5 324.9V329.4M34.5 324.1V330.2M35.5 324.1V329.2M36.5 323.8V329.2M37.5 322.6V328.5M38.5 323.1V327.9M39.5 323.2V327.5M40.5 322.1V327.4M41.5 321.8V327.4M42.5 322.4V327.1M43.5 322.0V326.2M44.5 322.3V326.8M45.5 321.6V326.4M46.5 320.8V326.7M47.5 321.8V325.6M48.5 321.4V325.7M49.5 321.1V325.4M50.5 320.9V325.9M51.5 320.9V325.1M52.5 321.2V325.6M53.5 321.5V325.5M54.5 320.6V324.8M56.5 259.1V268.4M57.5 264.1V273.4M58.5 268.8V276.8M59.5 271.2V279.0M60.5 273.0V282.4M61.5 277.2V285.2M62.5 280.2V287.0M63.5 281.7V289.9M64.5 285.5V292.1M65.5 287.2V294.6M66.5 288.7V295.2M67.5 289.4V296.8M68.5 292.7V298.4M69.5 293.7V300.7M70.5 295.6V301.8M71.5 296.7V303.1M72.5 298.8V304.2M73.5 299.4V305.4M74.5 300.9V306.7M75.5 302.4V308.2M76.5 302.2V308.7M77.5 303.6V309.8M78.5 304.6V310.3M79.5 306.0V310.6M80.5 306.3V311.7M81.5 306.9V313.0M82.5 307.4V312.9M83.5 308.5V313.8M84.5 309.4V313.6M85.5 309.6V315.4M86.5 309.9V315.1M87.5 310.6V317.5M88.5 310.7V316.2M89.5 310.9V316.6M90.5 311.3V316.4M91.5 311.9V316.7M92.5 312.3V317.5M93.5 312.5V317.6M94.5 312.9V317.0M95.5 313.3V318.5M96.5 313.2V318.4M97.5 313.3V318.6M98.5 314.4V318.5M99.5 313.6V318.8M100.5 314.6V319.1M101.5 314.5V319.6M102.5 314.4V320.2M103.5 314.6V321.3M104.5 315.1V320.6M105.5 314.8V320.0M106.5 315.3V320.6M108.5 373.5V382.6M109.5 370.0V378.7M110.5 366.8V374.7M111.5 363.8V371.3M112.5 360.4V369.1M113.5 358.0V365.3M114.5 354.9V362.5M115.5 353.3V360.0M116.5 351.1V357.9M117.5 348.6V355.3M118.5 345.8V353.6M119.5 344.7V351.9M120.5 343.2V350.3M121.5 342.0V347.6M122.5 339.3V346.4M123.5 338.8V344.4M124.5 337.1V344.0M125.5 336.2V342.7M126.5 335.2V340.1M127.5 332.2V339.7M128.5 333.1V339.6M129.5 332.7V338.6M130.5 330.5V336.9M131.5 330.2V336.3M132.5 329.5V335.3M133.5 329.4V334.4M134.5 328.7V333.2M135.5 327.8V332.7M136.5 326.6V332.7M137.5 327.2V331.7M138.5 326.0V331.2M139.5 325.9V330.8M140.5 325.1V330.0M141.5 324.6V329.3M142.5 324.2V329.4M143.5 323.9V329.4M144.5 323.3V328.4M145.5 323.3V328.2M146.5 323.3V327.6M147.5 323.2V329.2M148.5 322.0V327.8M149.5 322.2V327.4M150.5 321.8V328.1M151.5 322.0V326.9M152.5 322.1V326.9M153.5 321.1V326.5M154.5 321.0V326.2M155.5 321.5V326.0M156.5 319.3V325.8M157.5 320.8V325.6M158.5 320.8V326.0M159.5 321.2V325.6M160.5 320.2V325.4M161.5 319.6V325.4M162.5 320.4V326.8M164.5 259.0V268.9M165.5 264.5V272.8M166.5 268.9V277.1M167.5 271.7V279.5M168.5 275.3V282.6M169.5 277.6V284.8M170.5 281.0V286.6M171.5 282.0V289.2M172.5 285.3V292.1M173.5 287.2V293.5M174.5 288.8V295.6M175.5 291.0V297.6M176.5 292.6V299.0M177.5 294.2V300.1M178.5 295.6V301.2M179.5 297.1V303.3M180.5 298.5V304.7M181.5 299.1V305.4M182.5 300.8V306.8M183.5 300.1V307.3M184.5 303.6V308.2M185.5 303.8V310.3M186.5 304.4V310.4M187.5 305.1V310.8M188.5 306.7V312.1M189.5 306.5V312.2M190.5 307.9V313.5M191.5 307.6V313.0M192.5 308.9V313.4M193.5 309.4V315.0M194.5 309.3V315.6M195.5 310.3V315.3M196.5 310.8V317.7M197.5 311.2V315.9M198.5 311.5V316.7M199.5 312.2V317.4M200.5 312.6V316.6M201.5 312.8V317.2M202.5 312.9V318.2M203.5 313.5V318.4M204.5 313.1V318.3M205.5 313.6V318.4M206.5 313.2V318.7M207.5 312.9V319.5M208.5 314.7V319.6M209.5 313.8V318.5M210.5 315.2V319.5M211.5 315.3V320.2M212.5 315.1V319.8M213.5 315.3V320.3M214.5 315.2V319.9M216.5 374.5V382.4M217.5 371.1V378.0M218.5 366.0V375.5M219.5 363.9V371.6M220.5 360.8V368.0M221.5 358.5V365.6M222.5 355.2V362.7M223.5 352.9V360.4M224.5 351.2V357.9M225.5 349.4V355.8M226.5 346.8V353.1M227.5 345.0V351.8M228.5 342.4V349.6M229.5 341.3V347.6M230.5 340.0V345.9M231.5 339.2V345.5M232.5 337.9V345.3M233.5 336.5V341.8M234.5 334.9V342.8M235.5 334.0V340.1M236.5 333.0V339.1M237.5 332.1V337.4M238.5 330.8V337.1M239.5 330.2V336.2M240.5 329.4V335.7M241.5 329.4V334.1M242.5 328.4V333.8M243.5 327.2V333.5M244.5 326.7V332.8M245.5 327.4V331.9M246.5 325.9V331.0M247.5 325.5V331.1M248.5 325.1V330.4M249.5 323.4V330.9M250.5 324.0V329.8M251.5 323.8V328.3M252.5 324.0V329.0M253.5 322.8V328.4M254.5 323.5V328.3M255.5 322.7V327.7M256.5 323.0V327.8M257.5 320.3V327.6M258.5 321.9V327.8M259.5 321.2V327.0M260.5 321.7V327.0M261.5 321.7V326.7M262.5 322.0V326.0M263.5 321.0V327.0M264.5 321.1V326.6M265.5 321.1V325.4M266.5 320.6V326.1M267.5 321.2V325.5M268.5 320.8V325.8M269.5 320.5V325.1M270.5 319.5V325.2M272.5 258.8V269.2M273.5 264.4V272.8M274.5 268.0V276.7M275.5 271.5V279.4M276.5 275.0V282.3M277.5 278.0V284.7M278.5 279.1V287.2M279.5 282.4V289.4M280.5 284.9V291.2M281.5 287.4V293.9M282.5 289.3V296.1M283.5 290.6V296.4M284.5 292.4V298.7M285.5 292.1V302.6M286.5 295.6V301.8M287.5 298.0V303.1M288.5 298.4V304.5M289.5 300.1V305.4M290.5 300.8V305.9M291.5 301.6V308.1M292.5 303.0V309.8M293.5 303.9V308.6M294.5 305.0V310.1M295.5 305.4V311.2M296.5 306.3V312.0M297.5 307.0V312.5M298.5 308.5V312.7M299.5 308.3V313.4M300.5 308.8V314.8M301.5 309.4V315.4M302.5 309.6V315.2M303.5 310.7V316.3M304.5 311.2V316.2M305.5 310.7V315.9M306.5 310.6V316.4M307.5 311.9V317.3M308.5 311.6V316.4M309.5 312.4V317.1M310.5 313.4V318.0M311.5 313.2V318.2M312.5 314.0V319.1M313.5 313.3V318.5M314.5 314.1V319.2M315.5 313.7V319.6M316.5 314.4V319.3M317.5 314.7V321.3M318.5 314.9V319.1M319.5 314.7V319.7M320.5 315.1V320.3M321.5 315.0V319.9M322.5 315.0V320.7M324.5 374.1V382.7M325.5 370.8V379.1M326.5 366.8V374.9M327.5 364.3V371.4M328.5 361.5V368.6M329.5 358.7V365.1M330.5 355.4V363.4M331.5 353.5V360.5M332.5 351.2V359.3M333.5 348.6V355.1M334.5 346.7V353.7M335.5 345.3V351.3M336.5 343.6V350.2M337.5 342.1V347.9M338.5 339.9V347.3M339.5 339.0V344.6M340.5 337.4V342.7M341.5 335.3V342.5M342.5 334.9V341.1M343.5 334.2V339.5M344.5 333.2V339.0M345.5 331.5V338.4M346.5 331.1V336.5M347.5 330.3V336.2M348.5 329.2V334.8M349.5 329.0V335.1M350.5 328.3V333.4M351.5 327.9V333.2M352.5 327.0V332.6M353.5 327.3V331.8M354.5 325.9V331.3M355.5 325.1V330.6M356.5 324.6V330.0M357.5 324.8V330.3M358.5 324.5V328.8M359.5 324.1V329.3M360.5 323.6V329.0M361.5 322.5V328.8M362.5 322.9V327.9M363.5 323.2V327.7M364.5 322.1V327.8M365.5 322.5V327.1M366.5 322.6V327.7M367.5 321.6V326.9M368.5 321.5V326.5M369.5 320.3V327.4M370.5 321.3V326.2M371.5 322.0V326.5M372.5 320.8V326.4M373.5 320.6V327.2M374.5 320.8V325.4M375.5 321.1V325.4M376.5 320.8V324.9M377.5 320.5V325.1M378.5 320.6V325.1M380.5 259.4V269.3M381.5 264.3V273.0M382.5 268.4V276.7M383.5 272.0V279.6M384.5 274.7V282.4M385.5 276.5V286.3M386.5 280.1V287.1M387.5 283.2V289.6M388.5 284.8V291.2M389.5 286.7V294.4M390.5 288.9V295.2M391.5 291.3V297.3M392.5 292.9V299.3M393.5 294.2V300.2M394.5 295.2V301.8M395.5 296.4V302.9M396.5 297.7V303.9M397.5 299.4V306.0M398.5 301.1V306.3M399.5 302.2V308.0M400.5 303.4V308.8M401.5 304.2V309.0M402.5 304.7V310.1M403.5 306.2V311.4M404.5 306.9V311.2M405.5 306.8V311.8M406.5 307.8V313.1M407.5 308.1V315.4M408.5 309.2V314.5M409.5 309.5V315.2M410.5 310.1V314.5M411.5 310.1V315.3M412.5 311.2V315.8M413.5 311.8V316.5M414.5 311.3V316.6M415.5 311.2V317.6M416.5 312.7V317.8M417.5 311.9V318.0M418.5 312.8V317.6M419.5 313.6V317.9M420.5 313.8V318.4M421.5 314.3V318.5M422.5 313.5V319.3M423.5 314.8V319.7M424.5 314.2V319.1M425.5 314.8V319.4M426.5 313.9V319.3M427.5 315.3V319.6M428.5 315.4V320.0M429.5 315.1V320.7M430.5 315.4V319.8M432.5 373.6V382.9M433.5 370.4V379.1M434.5 367.6V376.6M435.5 364.4V373.2M436.5 360.6V368.0M437.5 358.1V365.7M438.5 355.3V363.3M439.5 352.9V360.0M440.5 350.7V357.5M441.5 348.6V355.3M442.5 346.7V352.9M443.5 344.7V351.6M444.5 343.1V349.6M445.5 342.1V348.1M446.5 340.1V345.9M447.5 338.1V344.7M448.5 337.6V343.7M449.5 334.7V341.7M450.5 334.5V340.7M451.5 334.0V339.3M452.5 333.1V339.9M453.5 331.8V337.6M454.5 331.2V337.2M455.5 330.8V335.9M456.5 329.5V335.9M457.5 328.3V334.4M458.5 328.7V334.5M459.5 327.7V333.2M460.5 327.0V332.2M461.5 327.0V332.2M462.5 326.5V331.3M463.5 325.5V332.4M464.5 325.4V331.0M465.5 324.1V330.1M466.5 324.2V329.5M467.5 324.3V329.0M468.5 323.1V328.5M469.5 323.4V329.1M470.5 322.7V328.0M471.5 322.5V327.9M472.5 322.5V327.6M473.5 322.1V328.0M474.5 321.7V327.5M475.5 321.4V326.6M476.5 321.8V327.0M477.5 321.8V326.5M478.5 320.4V327.0M479.5 321.3V326.0M480.5 319.7V326.1M481.5 320.7V325.5M482.5 320.6V325.8M483.5 321.0V325.1M484.5 321.0V325.2M485.5 320.8V325.3M486.5 320.3V325.2M488.5 258.9V269.2M489.5 264.1V273.1M490.5 268.7V276.4M491.5 272.3V279.9M492.5 275.3V282.2M493.5 277.9V284.7M494.5 279.9V286.8M495.5 282.6V289.7M496.5 284.1V290.8M497.5 287.3V294.4M498.5 289.4V295.2M499.5 290.4V297.6M500.5 292.3V299.1M501.5 293.4V300.7M502.5 295.9V301.8M503.5 297.0V302.9M504.5 298.0V304.4M505.5 299.5V305.7M506.5 300.3V306.9M507.5 302.1V307.5M508.5 303.0V310.6M509.5 304.0V309.0M510.5 305.1V309.8M511.5 305.8V310.7M512.5 306.1V311.6M513.5 307.0V312.4M514.5 307.8V313.2M515.5 306.4V314.2M516.5 309.8V314.2M517.5 308.8V314.9M518.5 309.8V314.7M519.5 310.8V316.3M520.5 311.0V316.0M521.5 311.6V316.6" stroke="#a8ffff" stroke-width="1" fill="none"/>
<path d="M22.5 331.8V336.2M23.5 330.8V335.7M24.5 330.1V334.9M25.5 329.1V334.2M26.5 328.8V333.2M27.5 328.3V332.6M28.5 327.8V332.3M29.5 327.2V331.5M30.5 326.3V330.6M31.5 325.8V330.5M32.5 326.0V329.7M33.5 325.3V329.4M34.5 324.7V329.6M35.5 324.8V328.7M36.5 324.4V328.2M37.5 323.9V327.6M38.5 323.4V327.5M39.5 323.8V326.9M40.5 322.9V326.9M41.5 322.5V326.7M42.5 322.6V327.0M43.5 322.5V326.0M44.5 322.5V326.6M45.5 322.2V326.2M46.5 321.5V326.4M47.5 322.3V325.5M48.5 321.8V325.4M49.5 321.6V325.1M50.5 321.3V325.5M51.5 321.1V325.1M52.5 321.2V324.9M53.5 321.5V325.2M54.5 321.4V324.6M56.5 260.0V268.3M57.5 264.6V273.1M58.5 268.9V276.0M59.5 272.0V278.7M60.5 275.4V281.9M61.5 277.9V285.0M62.5 281.0V286.6M63.5 282.6V289.2M64.5 285.6V291.6M65.5 287.3V293.7M66.5 289.1V294.9M67.5 291.2V296.5M68.5 293.1V298.0M69.5 294.5V300.0M70.5 296.0V301.4M71.5 297.5V302.4M72.5 299.2V304.1M73.5 300.1V305.2M74.5 301.1V306.4M75.5 302.5V307.3M76.5 302.8V308.0M77.5 304.4V309.0M78.5 305.0V309.8M79.5 306.0V310.3M80.5 306.9V310.9M81.5 307.1V312.3M82.5 308.1V312.2M83.5 308.7V313.7M84.5 309.5V313.4M85.5 310.1V314.5M86.5 310.5V314.2M87.5 310.7V315.0M88.5 311.0V315.8M89.5 311.3V315.8M90.5 311.6V316.2M91.5 312.4V316.3M92.5 312.6V317.2M93.5 313.3V317.1M94.5 313.0V317.0M95.5 314.0V317.7M96.5 313.3V317.7M97.5 314.2V318.5M98.5 314.6V318.3M99.5 314.0V318.5M100.5 314.7V318.7M101.5 315.3V319.1M102.5 315.1V319.4M103.5 315.3V318.9M104.5 315.4V319.7M105.5 315.6V319.3M106.5 315.5V320.0M108.5 374.3V381.9M109.5 370.9V378.6M110.5 367.4V374.4M111.5 364.4V371.1M112.5 361.1V368.5M113.5 358.6V365.1M114.5 355.5V362.1M115.5 354.1V360.0M116.5 351.3V357.8M117.5 349.5V354.9M118.5 346.7V352.9M119.5 345.4V351.3M120.5 343.3V349.7M121.5 342.2V347.2M122.5 340.2V345.6M123.5 338.8V344.2M124.5 337.4V343.1M125.5 336.5V341.8M126.5 335.7V340.0M127.5 334.0V339.7M128.5 333.9V338.2M129.5 333.0V337.8M130.5 331.2V336.0M131.5 331.1V335.4M132.5 329.8V334.5M133.5 329.5V333.9M134.5 329.1V333.0M135.5 328.2V332.4M136.5 327.5V332.2M137.5 327.5V331.4M138.5 326.8V330.6M139.5 326.1V330.3M140.5 325.5V329.8M141.5 324.8V328.9M142.5 324.8V329.2M143.5 324.8V328.5M144.5 324.0V328.2M145.5 323.9V327.6M146.5 323.6V327.6M147.5 323.5V327.7M148.5 322.8V327.2M149.5 323.0V326.5M150.5 322.4V327.2M151.5 322.5V326.4M152.5 322.3V326.4M153.5 321.9V326.1M154.5 321.7V326.0M155.5 321.6V325.8M156.5 321.3V325.5M157.5 321.1V325.5M158.5 321.5V325.2M159.5 321.4V325.5M160.5 320.6V325.3M161.5 321.2V325.1M162.5 321.0V324.7M164.5 259.8V268.7M165.5 265.1V272.4M166.5 269.0V276.2M167.5 272.4V278.7M168.5 275.6V282.0M169.5 277.8V284.1M170.5 281.1V286.5M171.5 282.9V289.0M172.5 285.6V291.8M173.5 287.3V292.9M174.5 289.7V295.3M175.5 291.2V296.9M176.5 293.4V298.4M177.5 294.9V299.9M178.5 296.1V301.1M179.5 297.6V302.6M180.5 298.8V304.3M181.5 299.9V304.5M182.5 300.8V306.0M183.5 301.9V307.0M184.5 303.8V307.9M185.5 304.1V309.5M186.5 305.0V309.6M187.5 306.0V310.5M188.5 306.9V311.2M189.5 307.2V311.8M190.5 308.0V312.7M191.5 308.4V312.9M192.5 309.2V313.4M193.5 309.6V314.3M194.5 309.9V314.8M195.5 311.1V314.9M196.5 311.2V315.4M197.5 311.7V315.7M198.5 311.9V316.2M199.5 312.3V316.6M200.5 313.1V316.4M201.5 313.0V317.2M202.5 312.9V317.5M203.5 314.0V318.0M204.5 313.9V317.9M205.5 314.3V318.3M206.5 314.0V318.3M207.5 314.7V318.9M208.5 315.0V318.9M209.5 314.6V318.5M210.5 315.3V319.1M211.5 315.5V319.6M212.5 315.6V319.0M213.5 315.7V319.5M214.5 316.0V319.6M216.5 375.2V382.4M217.5 371.2V377.9M218.5 367.8V374.7M219.5 364.0V371.5M220.5 361.2V367.8M221.5 359.0V365.4M222.5 356.1V362.4M223.5 353.4V360.3M224.5 351.4V357.6M225.5 349.5V355.3M226.5 347.1V352.7M227.5 345.2V351.0M228.5 343.1V349.0M229.5 341.6V347.3M230.5 340.5V345.7M231.5 339.5V344.7M232.5 337.9V342.6M233.5 337.1V341.2M234.5 335.7V341.1M235.5 334.2V339.7M236.5 333.6V338.6M237.5 332.2V337.1M238.5 331.2V336.6M239.5 330.8V335.4M240.5 329.8V334.9M241.5 329.4V333.7M242.5 328.6V333.5M243.5 328.1V332.7M244.5 327.6V332.1M245.5 327.5V331.4M246.5 326.4V330.9M247.5 326.1V330.8M248.5 325.3V329.7M249.5 325.1V330.0M250.5 324.6V329.4M251.5 324.5V328.3M252.5 324.5V328.4M253.5 323.3V328.0M254.5 323.6V328.1M255.5 323.6V327.7M256.5 323.1V327.1M257.5 322.8V327.4M258.5 322.6V327.0M259.5 322.0V326.5M260.5 321.9V326.3M261.5 322.0V326.0M262.5 322.2V325.9M263.5 321.8V325.6M264.5 321.6V326.0M265.5 321.4V325.1M266.5 321.0V325.6M267.5 321.3V325.1M268.5 320.9V325.2M269.5 320.9V324.7M270.5 320.3V324.6M272.5 259.1V268.5M273.5 265.1V272.7M274.5 268.8V276.2M275.5 272.4V279.0M276.5 275.4V282.1M277.5 278.0V284.5M278.5 280.2V286.7M279.5 282.7V289.3M280.5 285.5V290.7M281.5 287.8V293.3M282.5 289.5V295.3M283.5 291.3V296.4M284.5 293.0V298.4M285.5 294.3V300.4M286.5 296.3V301.3M287.5 298.0V302.9M288.5 298.6V304.0M289.5 300.4V304.7M290.5 300.9V305.7M291.5 302.2V307.6M292.5 303.2V307.7M293.5 304.1V308.5M294.5 305.3V309.6M295.5 305.8V310.9M296.5 306.3V311.3M297.5 307.2V312.0M298.5 308.6V312.6M299.5 308.4V313.2M300.5 309.1V313.9M301.5 310.1V314.7M302.5 309.9V314.6M303.5 311.2V315.6M304.5 311.8V315.8M305.5 311.3V315.9M306.5 312.2V316.2M307.5 312.5V316.7M308.5 312.5V316.4M309.5 312.8V317.0M310.5 313.6V317.6M311.5 313.4V318.1M312.5 314.4V318.3M313.5 313.8V317.9M314.5 314.2V319.0M315.5 314.2V318.8M316.5 314.5V318.9M317.5 315.0V318.9M318.5 315.1V319.1M319.5 315.5V319.0M320.5 315.3V319.6M321.5 315.5V319.8M322.5 315.8V319.9M324.5 374.8V382.6M325.5 371.0V378.5M326.5 367.2V374.3M327.5 364.6V370.8M328.5 361.7V368.4M329.5 359.0V364.8M330.5 355.8V362.6M331.5 353.6V359.7M332.5 351.5V357.1M333.5 349.4V354.6M334.5 347.4V353.1M335.5 345.8V350.6M336.5 343.6V349.4M337.5 342.4V347.8M338.5 340.1V345.8M339.5 339.3V344.5M340.5 337.6V342.5M341.5 336.3V341.8M342.5 335.7V340.5M343.5 334.5V339.4M344.5 333.6V338.2M345.5 331.9V337.7M346.5 331.5V336.0M347.5 330.4V335.5M348.5 329.9V334.5M349.5 329.3V334.3M350.5 328.5V333.3M351.5 328.4V332.8M352.5 327.5V331.9M353.5 327.5V331.3M354.5 326.3V331.1M355.5 325.8V330.3M356.5 325.4V330.0M357.5 325.5V329.6M358.5 325.0V328.5M359.5 324.5V329.0M360.5 323.7V328.9M361.5 323.7V328.7M362.5 323.4V327.7M363.5 323.2V327.3M364.5 322.6V327.6M365.5 322.9V326.6M366.5 322.8V326.8M367.5 322.5V326.8M368.5 322.4V326.2M369.5 321.7V326.6M370.5 321.9V325.7M371.5 322.1V325.6M372.5 321.1V325.9M373.5 321.4V325.7M374.5 321.0V325.1M375.5 321.3V324.7M376.5 321.1V324.9M377.5 321.1V325.0M378.5 320.7V324.7M380.5 259.8V268.4M381.5 265.0V272.5M382.5 268.9V275.9M383.5 272.2V279.0M384.5 274.9V282.0M385.5 278.0V284.5M386.5 280.8V286.7M387.5 283.2V289.4M388.5 285.5V291.1M389.5 287.5V293.6M390.5 289.4V295.0M391.5 291.4V296.5M392.5 293.6V298.6M393.5 294.7V300.0M394.5 295.9V301.0M395.5 297.1V302.7M396.5 298.6V303.4M397.5 300.0V305.2M398.5 301.2V306.3M399.5 302.4V307.4M400.5 303.5V308.0M401.5 304.4V308.5M402.5 305.0V310.1M403.5 306.4V310.5M404.5 307.1V310.9M405.5 307.3V311.8M406.5 307.9V312.7M407.5 308.7V313.3M408.5 309.4V314.1M409.5 309.7V314.7M410.5 310.2V314.2M411.5 310.6V315.1M412.5 311.2V315.6M413.5 311.9V315.8M414.5 311.7V316.1M415.5 312.1V316.8M416.5 312.9V317.1M417.5 312.6V317.7M418.5 313.2V317.2M419.5 313.9V317.5M420.5 314.1V318.1M421.5 314.5V318.2M422.5 314.0V318.8M423.5 314.8V319.0M424.5 315.0V318.9M425.5 314.9V319.0M426.5 314.7V318.8M427.5 315.4V318.8M428.5 315.7V319.2M429.5 315.2V319.9M430.5 315.9V319.7M432.5 374.4V382.8M433.5 370.8V378.3M434.5 367.8V374.9M435.5 364.6V371.8M436.5 361.3V367.9M437.5 358.8V365.1M438.5 356.1V362.5M439.5 353.0V359.8M440.5 351.5V357.2M441.5 349.1V355.3M442.5 347.3V352.8M443.5 345.3V351.4M444.5 343.7V349.5M445.5 342.4V347.6M446.5 340.6V345.7M447.5 339.0V344.5M448.5 338.0V343.1M449.5 336.4V341.5M450.5 334.9V340.5M451.5 334.5V338.8M452.5 333.6V338.2M453.5 332.6V337.1M454.5 331.3V336.8M455.5 330.9V335.4M456.5 329.8V334.2M457.5 329.1V333.9M458.5 329.2V333.7M459.5 328.0V332.6M460.5 327.8V331.9M461.5 327.0V331.6M462.5 326.6V331.0M463.5 326.0V330.4M464.5 325.6V330.3M465.5 324.8V329.4M466.5 324.7V329.0M467.5 324.5V328.8M468.5 323.6V328.4M469.5 323.7V328.2M470.5 323.0V327.6M471.5 323.2V327.3M472.5 323.4V327.4M473.5 323.0V327.3M474.5 322.2V326.9M475.5 322.3V326.6M476.5 322.6V326.5M477.5 322.2V326.4M478.5 322.0V326.2M479.5 321.7V325.7M480.5 321.5V325.4M481.5 321.2V325.2M482.5 321.2V325.2M483.5 321.6V324.8M484.5 321.5V325.0M485.5 320.9V325.0M486.5 320.6V324.9M488.5 259.7V268.3M489.5 264.9V272.6M490.5 268.8V275.6M491.5 272.5V279.3M492.5 275.5V282.0M493.5 278.5V284.2M494.5 280.3V286.8M495.5 283.4V289.3M496.5 285.4V290.8M497.5 287.3V293.6M498.5 289.7V295.1M499.5 291.0V296.7M500.5 292.8V298.9M501.5 294.1V300.0M502.5 295.9V301.7M503.5 297.1V302.3M504.5 298.5V304.0M505.5 300.0V305.4M506.5 301.0V306.2M507.5 302.5V307.2M508.5 303.4V308.1M509.5 304.1V308.8M510.5 305.3V309.5M511.5 306.4V310.6M512.5 306.3V311.4M513.5 307.8V311.9M514.5 308.3V312.6M515.5 308.7V313.4M516.5 309.8V314.0M517.5 309.7V314.1M518.5 310.1V314.5M519.5 310.9V315.5M520.5 311.5V315.8M521.5 311.9V316.2" stroke="#4cffff" stroke-width="1" fill="none"/>
<path d="M22.5 332.2V335.8M23.5 331.1V335.1M24.5 330.2V334.3M25.5 329.4V333.8M26.5 329.3V332.7M27.5 328.7V332.5M28.5 327.9V331.7M29.5 327.6V331.0M30.5 327.0V330.5M31.5 326.3V330.0M32.5 326.2V329.4M33.5 325.6V329.3M34.5 325.3V329.0M35.5 325.0V328.5M36.5 324.4V327.8M37.5 324.1V327.4M38.5 323.6V327.2M39.5 323.9V326.8M40.5 323.3V326.7M41.5 323.0V326.5M42.5 323.1V326.5M43.5 323.0V325.9M44.5 322.5V326.1M45.5 322.3V326.0M46.5 322.0V325.8M47.5 322.3V325.5M48.5 321.9V325.1M49.5 321.6V324.9M50.5 321.8V325.0M51.5 321.5V324.6M52.5 321.6V324.7M53.5 321.6V324.6M54.5 321.5V324.3M56.5 260.1V268.1M57.5 264.9V272.4M58.5 269.0V275.4M59.5 272.7V278.6M60.5 275.7V281.3M61.5 278.1V284.4M62.5 281.1V286.5M63.5 283.3V288.7M64.5 285.8V291.0M65.5 287.9V293.1M66.5 289.7V294.5M67.5 291.4V296.3M68.5 293.6V297.9M69.5 295.1V299.7M70.5 296.4V300.8M71.5 297.8V302.2M72.5 299.5V303.6M73.5 300.3V304.7M74.5 301.6V305.7M75.5 302.8V306.9M76.5 303.5V307.6M77.5 304.8V308.4M78.5 305.4V309.2M79.5 306.3V310.2M80.5 307.2V310.8M81.5 307.6V311.8M82.5 308.2V312.2M83.5 309.0V313.1M84.5 309.6V313.2M85.5 310.4V313.9M86.5 310.6V314.1M87.5 311.2V314.7M88.5 311.5V315.1M89.5 311.9V315.7M90.5 312.3V315.9M91.5 312.6V316.0M92.5 313.1V316.9M93.5 313.6V316.8M94.5 313.5V317.0M95.5 314.2V317.2M96.5 314.0V317.4M97.5 314.7V318.1M98.5 315.0V318.2M99.5 314.6V318.2M100.5 314.8V318.6M101.5 315.3V318.8M102.5 315.4V318.7M103.5 315.8V318.9M104.5 315.8V319.2M105.5 315.9V319.1M106.5 315.8V319.5M108.5 375.0V381.8M109.5 371.3V378.3M110.5 368.0V374.1M111.5 364.9V370.9M112.5 361.4V368.1M113.5 359.0V365.1M114.5 356.0V362.0M115.5 354.2V359.4M116.5 351.5V357.1M117.5 349.7V354.7M118.5 347.3V352.5M119.5 345.5V350.6M120.5 344.0V349.0M121.5 342.6V346.9M122.5 340.8V345.3M123.5 339.2V343.9M124.5 338.1V342.7M125.5 336.7V341.4M126.5 336.1V339.8M127.5 334.6V339.2M128.5 333.9V338.0M129.5 333.0V337.1M130.5 331.7V336.0M131.5 331.3V334.9M132.5 330.3V334.1M133.5 329.9V333.4M134.5 329.1V332.9M135.5 328.3V332.1M136.5 327.8V331.8M137.5 327.6V331.0M138.5 327.0V330.3M139.5 326.7V329.8M140.5 326.1V329.3M141.5 325.5V328.9M142.5 325.1V329.0M143.5 324.9V328.2M144.5 324.5V327.8M145.5 324.2V327.5M146.5 324.2V327.5M147.5 323.7V327.2M148.5 323.3V327.0M149.5 323.1V326.3M150.5 322.8V326.6M151.5 322.7V326.1M152.5 322.5V325.9M153.5 322.3V325.9M154.5 322.3V325.7M155.5 322.2V325.3M156.5 321.8V325.3M157.5 321.7V325.4M158.5 321.7V324.9M159.5 321.6V324.8M160.5 321.2V324.6M161.5 321.6V324.9M162.5 321.5V324.4M164.5 260.0V268.1M165.5 265.3V271.9M166.5 269.2V275.5M167.5 272.7V278.7M168.5 275.6V281.8M169.5 278.4V284.0M170.5 281.2V286.5M171.5 283.4V288.7M172.5 285.8V291.1M173.5 287.9V292.7M174.5 289.9V295.0M175.5 291.5V296.6M176.5 293.4V298.3M177.5 295.0V299.4M178.5 296.4V300.8M179.5 298.1V302.2M180.5 299.2V303.8M181.5 300.3V304.5M182.5 301.4V305.6M183.5 302.5V306.8M184.5 303.9V307.8M185.5 304.4V308.9M186.5 305.6V309.2M187.5 306.3V310.4M188.5 307.2V311.1M189.5 307.8V311.3M190.5 308.3V312.3M191.5 308.9V312.6M192.5 309.6V313.3M193.5 310.0V313.9M194.5 310.5V314.5M195.5 311.2V314.8M196.5 311.6V315.0M197.5 312.2V315.3M198.5 312.3V315.8M199.5 312.7V316.1M200.5 313.3V316.4M201.5 313.5V317.1M202.5 313.6V317.3M203.5 314.1V317.3M204.5 314.0V317.7M205.5 314.5V317.9M206.5 314.4V317.8M207.5 314.8V318.4M208.5 315.1V318.4M209.5 315.1V318.4M210.5 315.7V318.8M211.5 315.7V318.9M212.5 315.6V319.0M213.5 315.8V319.1M214.5 316.0V319.3M216.5 375.2V382.2M217.5 371.3V377.7M218.5 368.1V374.6M219.5 364.4V370.9M220.5 361.6V367.6M221.5 359.1V364.9M222.5 356.3V362.1M223.5 353.6V359.7M224.5 351.4V357.0M225.5 349.5V354.9M226.5 347.8V352.4M227.5 345.6V350.6M228.5 343.7V348.8M229.5 342.1V347.0M230.5 340.7V345.6M231.5 339.7V344.1M232.5 338.2V342.3M233.5 337.1V341.2M234.5 335.9V340.4M235.5 334.6V339.1M236.5 334.0V338.0M237.5 332.8V336.8M238.5 331.9V336.1M239.5 331.4V335.2M240.5 330.4V334.2M241.5 329.4V333.4M242.5 329.1V333.1M243.5 328.4V332.2M244.5 328.2V331.6M245.5 327.6V331.0M246.5 326.9V330.3M247.5 326.1V330.2M248.5 325.7V329.4M249.5 325.5V329.4M250.5 325.0V329.0M251.5 325.1V328.3M252.5 324.7V327.9M253.5 323.9V327.9M254.5 324.1V327.4M255.5 323.8V327.3M256.5 323.6V326.7M257.5 323.0V326.8M258.5 323.2V326.5M259.5 322.5V326.0M260.5 322.5V325.7M261.5 322.2V325.9M262.5 322.4V325.3M263.5 322.0V325.2M264.5 322.1V325.4M265.5 321.9V325.0M266.5 321.7V324.9M267.5 321.7V324.6M268.5 321.5V324.9M269.5 321.2V324.5M270.5 321.0V324.5M272.5 259.7V267.9M273.5 265.2V272.1M274.5 269.2V275.5M275.5 272.8V278.7M276.5 275.8V281.7M277.5 278.4V284.4M278.5 280.8V286.4M279.5 283.3V288.7M280.5 285.9V290.7M281.5 288.0V292.7M282.5 289.7V294.9M283.5 291.6V296.3M284.5 293.2V298.2M285.5 294.8V299.7M286.5 296.6V301.2M287.5 298.2V302.5M288.5 299.1V303.6M289.5 300.6V304.6M290.5 301.4V305.6M291.5 302.4V307.1M292.5 303.4V307.5M293.5 304.7V308.3M294.5 305.7V309.3M295.5 306.4V310.5M296.5 307.0V310.7M297.5 307.6V311.5M298.5 308.6V312.4M299.5 308.9V312.6M300.5 309.4V313.3M301.5 310.2V314.1M302.5 310.4V314.1M303.5 311.4V315.0M304.5 311.9V315.2M305.5 311.7V315.3M306.5 312.3V316.1M307.5 312.6V316.1M308.5 312.8V316.3M309.5 313.3V316.6M310.5 313.9V317.4M311.5 313.8V317.4M312.5 314.5V317.6M313.5 314.3V317.8M314.5 314.8V318.3M315.5 314.8V318.4M316.5 315.1V318.5M317.5 315.3V318.6M318.5 315.5V318.8M319.5 315.8V319.0M320.5 315.7V319.3M321.5 316.2V319.3M322.5 316.3V319.6M324.5 374.9V381.9M325.5 371.3V377.9M326.5 367.6V374.3M327.5 365.0V370.7M328.5 361.8V367.8M329.5 359.1V364.6M330.5 356.3V361.9M331.5 353.9V359.5M332.5 351.6V357.0M333.5 349.6V354.5M334.5 347.7V352.5M335.5 345.9V350.4M336.5 344.1V349.1M337.5 342.6V347.2M338.5 340.6V345.6M339.5 339.6V343.8M340.5 338.2V342.4M341.5 336.9V341.5M342.5 335.8V340.3M343.5 334.6V338.9M344.5 334.0V337.8M345.5 332.6V337.1M346.5 332.1V335.8M347.5 331.0V335.3M348.5 330.5V334.1M349.5 329.6V333.8M350.5 329.2V332.8M351.5 328.7V332.4M352.5 327.6V331.4M353.5 327.6V330.8M354.5 326.8V330.8M355.5 326.3V329.9M356.5 326.0V329.6M357.5 325.6V329.4M358.5 325.1V328.5M359.5 325.1V328.6M360.5 324.2V328.3M361.5 324.2V328.0M362.5 323.9V327.3M363.5 323.5V327.1M364.5 323.2V327.1M365.5 322.9V326.3M366.5 323.0V326.6M367.5 323.0V326.2M368.5 322.5V326.2M369.5 322.3V326.0M370.5 322.4V325.5M371.5 322.3V325.5M372.5 321.7V325.5M373.5 321.7V325.3M374.5 321.6V324.8M375.5 321.8V324.6M376.5 321.6V324.4M377.5 321.3V324.9M378.5 320.9V324.4M380.5 259.8V268.0M381.5 265.1V272.1M382.5 269.1V275.6M383.5 272.6V278.5M384.5 275.3V281.4M385.5 278.5V284.1M386.5 281.3V286.5M387.5 283.4V288.8M388.5 285.7V290.7M389.5 287.8V292.9M390.5 290.0V294.5M391.5 291.6V296.2M392.5 293.7V298.1M393.5 295.3V299.4M394.5 296.6V300.7M395.5 297.7V302.6M396.5 298.9V303.3M397.5 300.3V304.6M398.5 301.4V305.9M399.5 302.9V307.0M400.5 303.8V307.8M401.5 304.8V308.5M402.5 305.4V309.5M403.5 306.5V310.0M404.5 307.1V310.8M405.5 307.9V311.3M406.5 308.5V312.1M407.5 309.2V312.9M408.5 309.4V313.6M409.5 310.0V314.1M410.5 310.8V314.1M411.5 311.1V315.0M412.5 311.9V315.1M413.5 312.3V315.3M414.5 312.4V315.9M415.5 312.6V316.3M416.5 313.1V316.6M417.5 313.3V317.0M418.5 313.5V317.1M419.5 314.0V317.2M420.5 314.5V317.4M421.5 314.5V318.1M422.5 314.4V318.1M423.5 315.2V318.6M424.5 315.2V318.7M425.5 315.0V318.4M426.5 315.3V318.6M427.5 315.8V318.8M428.5 316.0V319.1M429.5 315.9V319.5M430.5 316.3V319.4M432.5 375.1V382.2M433.5 371.5V378.2M434.5 368.1V374.3M435.5 364.9V371.1M436.5 362.0V367.7M437.5 359.2V364.8M438.5 356.6V361.9M439.5 353.7V359.4M440.5 351.5V357.2M441.5 349.7V354.9M442.5 347.4V352.6M443.5 345.5V350.7M444.5 344.1V348.8M445.5 342.4V347.2M446.5 340.8V345.4M447.5 339.6V343.9M448.5 338.5V342.8M449.5 336.8V341.4M450.5 335.6V340.1M451.5 334.8V338.7M452.5 333.6V337.7M453.5 332.6V337.0M454.5 331.7V336.2M455.5 331.4V335.4M456.5 330.2V334.1M457.5 329.6V333.8M458.5 329.3V333.0M459.5 328.4V332.4M460.5 327.9V331.7M461.5 327.6V331.1M462.5 326.8V330.5M463.5 326.4V330.2M464.5 325.7V329.7M465.5 325.4V329.0M466.5 325.3V328.5M467.5 324.9V328.5M468.5 324.2V328.3M469.5 324.2V328.0M470.5 323.7V327.1M471.5 323.4V327.3M472.5 323.6V327.1M473.5 323.1V326.7M474.5 322.8V326.4M475.5 322.8V326.3M476.5 322.8V326.2M477.5 322.4V326.0M478.5 322.0V325.5M479.5 322.2V325.4M480.5 321.6V325.1M481.5 321.5V325.0M482.5 321.5V324.8M483.5 321.8V324.6M484.5 321.6V324.5M485.5 321.4V324.7M486.5 321.1V324.3M488.5 260.2V268.0M489.5 265.0V271.9M490.5 269.2V275.4M491.5 272.6V278.7M492.5 275.8V281.5M493.5 278.5V284.2M494.5 280.7V286.5M495.5 283.5V288.7M496.5 285.9V290.6M497.5 287.7V293.2M498.5 290.1V295.0M499.5 291.5V296.3M500.5 293.4V298.4M501.5 294.7V299.5M502.5 296.3V301.1M503.5 297.7V302.1M504.5 299.2V303.6M505.5 300.7V304.9M506.5 301.6V306.0M507.5 302.8V306.7M508.5 303.7V307.6M509.5 304.7V308.7M510.5 305.5V309.2M511.5 306.5V310.3M512.5 306.9V311.0M513.5 308.0V311.6M514.5 308.6V312.3M515.5 309.3V312.7M516.5 309.9V313.5M517.5 310.2V313.8M518.5 310.5V314.4M519.5 311.3V314.9M520.5 311.8V315.3M521.5 312.3V315.7" stroke="#00ffff" stroke-width="1" fill="none"/>
<line x1="22" y1="187.5" x2="522" y2="187.5" stroke="#000090" stroke-width="1" shape-rendering="crispEdges"/>
<line x1="24" y1="304.5" x2="522" y2="304.5" stroke="#000090" stroke-width="1.15" stroke-dasharray="4 4"/>
</g>
<g shape-rendering="crispEdges">
<line x1="22" y1="19.5" x2="523" y2="19.5" stroke="#000" stroke-width="1" stroke-dasharray="1 1"/>
<line x1="22" y1="421.5" x2="523" y2="421.5" stroke="#000" stroke-width="1" stroke-dasharray="1 1"/>
<line x1="21.5" y1="20" x2="21.5" y2="421" stroke="#000" stroke-width="1" stroke-dasharray="1 1"/>
<line x1="522.5" y1="20" x2="522.5" y2="421" stroke="#000" stroke-width="1" stroke-dasharray="1 1"/>
<rect x="21" y="19" width="1" height="1" fill="#000"/>
<rect x="21" y="421" width="1" height="1" fill="#000"/>
<rect x="32" y="20" width="1" height="1" fill="#000"/>
<rect x="32" y="22" width="1" height="1" fill="#000"/>
<rect x="32" y="420" width="1" height="1" fill="#000"/>
<rect x="32" y="418" width="1" height="1" fill="#000"/>
<rect x="42" y="20" width="1" height="1" fill="#000"/>
<rect x="42" y="22" width="1" height="1" fill="#000"/>
<rect x="42" y="420" width="1" height="1" fill="#000"/>
<rect x="42" y="418" width="1" height="1" fill="#000"/>
<rect x="52" y="20" width="1" height="1" fill="#000"/>
<rect x="52" y="22" width="1" height="1" fill="#000"/>
<rect x="52" y="420" width="1" height="1" fill="#000"/>
<rect x="52" y="418" width="1" height="1" fill="#000"/>
<rect x="62" y="20" width="1" height="1" fill="#000"/>
<rect x="62" y="22" width="1" height="1" fill="#000"/>
<rect x="62" y="420" width="1" height="1" fill="#000"/>
<rect x="62" y="418" width="1" height="1" fill="#000"/>
<rect x="82" y="20" width="1" height="1" fill="#000"/>
<rect x="82" y="22" width="1" height="1" fill="#000"/>
<rect x="82" y="420" width="1" height="1" fill="#000"/>
<rect x="82" y="418" width="1" height="1" fill="#000"/>
<rect x="92" y="20" width="1" height="1" fill="#000"/>
<rect x="92" y="22" width="1" height="1" fill="#000"/>
<rect x="92" y="420" width="1" height="1" fill="#000"/>
<rect x="92" y="418" width="1" height="1" fill="#000"/>
<rect x="102" y="20" width="1" height="1" fill="#000"/>
<rect x="102" y="22" width="1" height="1" fill="#000"/>
<rect x="102" y="420" width="1" height="1" fill="#000"/>
<rect x="102" y="418" width="1" height="1" fill="#000"/>
<rect x="112" y="20" width="1" height="1" fill="#000"/>
<rect x="112" y="22" width="1" height="1" fill="#000"/>
<rect x="112" y="420" width="1" height="1" fill="#000"/>
<rect x="112" y="418" width="1" height="1" fill="#000"/>
<rect x="132" y="20" width="1" height="1" fill="#000"/>
<rect x="132" y="22" width="1" height="1" fill="#000"/>
<rect x="132" y="420" width="1" height="1" fill="#000"/>
<rect x="132" y="418" width="1" height="1" fill="#000"/>
<rect x="142" y="20" width="1" height="1" fill="#000"/>
<rect x="142" y="22" width="1" height="1" fill="#000"/>
<rect x="142" y="420" width="1" height="1" fill="#000"/>
<rect x="142" y="418" width="1" height="1" fill="#000"/>
<rect x="152" y="20" width="1" height="1" fill="#000"/>
<rect x="152" y="22" width="1" height="1" fill="#000"/>
<rect x="152" y="420" width="1" height="1" fill="#000"/>
<rect x="152" y="418" width="1" height="1" fill="#000"/>
<rect x="162" y="20" width="1" height="1" fill="#000"/>
<rect x="162" y="22" width="1" height="1" fill="#000"/>
<rect x="162" y="420" width="1" height="1" fill="#000"/>
<rect x="162" y="418" width="1" height="1" fill="#000"/>
<rect x="182" y="20" width="1" height="1" fill="#000"/>
<rect x="182" y="22" width="1" height="1" fill="#000"/>
<rect x="182" y="420" width="1" height="1" fill="#000"/>
<rect x="182" y="418" width="1" height="1" fill="#000"/>
<rect x="192" y="20" width="1" height="1" fill="#000"/>
<rect x="192" y="22" width="1" height="1" fill="#000"/>
<rect x="192" y="420" width="1" height="1" fill="#000"/>
<rect x="192" y="418" width="1" height="1" fill="#000"/>
<rect x="202" y="20" width="1" height="1" fill="#000"/>
<rect x="202" y="22" width="1" height="1" fill="#000"/>
<rect x="202" y="420" width="1" height="1" fill="#000"/>
<rect x="202" y="418" width="1" height="1" fill="#000"/>
<rect x="212" y="20" width="1" height="1" fill="#000"/>
<rect x="212" y="22" width="1" height="1" fill="#000"/>
<rect x="212" y="420" width="1" height="1" fill="#000"/>
<rect x="212" y="418" width="1" height="1" fill="#000"/>
<rect x="232" y="20" width="1" height="1" fill="#000"/>
<rect x="232" y="22" width="1" height="1" fill="#000"/>
<rect x="232" y="420" width="1" height="1" fill="#000"/>
<rect x="232" y="418" width="1" height="1" fill="#000"/>
<rect x="242" y="20" width="1" height="1" fill="#000"/>
<rect x="242" y="22" width="1" height="1" fill="#000"/>
<rect x="242" y="420" width="1" height="1" fill="#000"/>
<rect x="242" y="418" width="1" height="1" fill="#000"/>
<rect x="252" y="20" width="1" height="1" fill="#000"/>
<rect x="252" y="22" width="1" height="1" fill="#000"/>
<rect x="252" y="420" width="1" height="1" fill="#000"/>
<rect x="252" y="418" width="1" height="1" fill="#000"/>
<rect x="262" y="20" width="1" height="1" fill="#000"/>
<rect x="262" y="22" width="1" height="1" fill="#000"/>
<rect x="262" y="420" width="1" height="1" fill="#000"/>
<rect x="262" y="418" width="1" height="1" fill="#000"/>
<rect x="282" y="20" width="1" height="1" fill="#000"/>
<rect x="282" y="22" width="1" height="1" fill="#000"/>
<rect x="282" y="420" width="1" height="1" fill="#000"/>
<rect x="282" y="418" width="1" height="1" fill="#000"/>
<rect x="292" y="20" width="1" height="1" fill="#000"/>
<rect x="292" y="22" width="1" height="1" fill="#000"/>
<rect x="292" y="420" width="1" height="1" fill="#000"/>
<rect x="292" y="418" width="1" height="1" fill="#000"/>
<rect x="302" y="20" width="1" height="1" fill="#000"/>
<rect x="302" y="22" width="1" height="1" fill="#000"/>
<rect x="302" y="420" width="1" height="1" fill="#000"/>
<rect x="302" y="418" width="1" height="1" fill="#000"/>
<rect x="312" y="20" width="1" height="1" fill="#000"/>
<rect x="312" y="22" width="1" height="1" fill="#000"/>
<rect x="312" y="420" width="1" height="1" fill="#000"/>
<rect x="312" y="418" width="1" height="1" fill="#000"/>
<rect x="332" y="20" width="1" height="1" fill="#000"/>
<rect x="332" y="22" width="1" height="1" fill="#000"/>
<rect x="332" y="420" width="1" height="1" fill="#000"/>
<rect x="332" y="418" width="1" height="1" fill="#000"/>
<rect x="342" y="20" width="1" height="1" fill="#000"/>
<rect x="342" y="22" width="1" height="1" fill="#000"/>
<rect x="342" y="420" width="1" height="1" fill="#000"/>
<rect x="342" y="418" width="1" height="1" fill="#000"/>
<rect x="352" y="20" width="1" height="1" fill="#000"/>
<rect x="352" y="22" width="1" height="1" fill="#000"/>
<rect x="352" y="420" width="1" height="1" fill="#000"/>
<rect x="352" y="418" width="1" height="1" fill="#000"/>
<rect x="362" y="20" width="1" height="1" fill="#000"/>
<rect x="362" y="22" width="1" height="1" fill="#000"/>
<rect x="362" y="420" width="1" height="1" fill="#000"/>
<rect x="362" y="418" width="1" height="1" fill="#000"/>
<rect x="382" y="20" width="1" height="1" fill="#000"/>
<rect x="382" y="22" width="1" height="1" fill="#000"/>
<rect x="382" y="420" width="1" height="1" fill="#000"/>
<rect x="382" y="418" width="1" height="1" fill="#000"/>
<rect x="392" y="20" width="1" height="1" fill="#000"/>
<rect x="392" y="22" width="1" height="1" fill="#000"/>
<rect x="392" y="420" width="1" height="1" fill="#000"/>
<rect x="392" y="418" width="1" height="1" fill="#000"/>
<rect x="402" y="20" width="1" height="1" fill="#000"/>
<rect x="402" y="22" width="1" height="1" fill="#000"/>
<rect x="402" y="420" width="1" height="1" fill="#000"/>
<rect x="402" y="418" width="1" height="1" fill="#000"/>
<rect x="412" y="20" width="1" height="1" fill="#000"/>
<rect x="412" y="22" width="1" height="1" fill="#000"/>
<rect x="412" y="420" width="1" height="1" fill="#000"/>
<rect x="412" y="418" width="1" height="1" fill="#000"/>
<rect x="432" y="20" width="1" height="1" fill="#000"/>
<rect x="432" y="22" width="1" height="1" fill="#000"/>
<rect x="432" y="420" width="1" height="1" fill="#000"/>
<rect x="432" y="418" width="1" height="1" fill="#000"/>
<rect x="442" y="20" width="1" height="1" fill="#000"/>
<rect x="442" y="22" width="1" height="1" fill="#000"/>
<rect x="442" y="420" width="1" height="1" fill="#000"/>
<rect x="442" y="418" width="1" height="1" fill="#000"/>
<rect x="452" y="20" width="1" height="1" fill="#000"/>
<rect x="452" y="22" width="1" height="1" fill="#000"/>
<rect x="452" y="420" width="1" height="1" fill="#000"/>
<rect x="452" y="418" width="1" height="1" fill="#000"/>
<rect x="462" y="20" width="1" height="1" fill="#000"/>
<rect x="462" y="22" width="1" height="1" fill="#000"/>
<rect x="462" y="420" width="1" height="1" fill="#000"/>
<rect x="462" y="418" width="1" height="1" fill="#000"/>
<rect x="482" y="20" width="1" height="1" fill="#000"/>
<rect x="482" y="22" width="1" height="1" fill="#000"/>
<rect x="482" y="420" width="1" height="1" fill="#000"/>
<rect x="482" y="418" width="1" height="1" fill="#000"/>
<rect x="492" y="20" width="1" height="1" fill="#000"/>
<rect x="492" y="22" width="1" height="1" fill="#000"/>
<rect x="492" y="420" width="1" height="1" fill="#000"/>
<rect x="492" y="418" width="1" height="1" fill="#000"/>
<rect x="502" y="20" width="1" height="1" fill="#000"/>
<rect x="502" y="22" width="1" height="1" fill="#000"/>
<rect x="502" y="420" width="1" height="1" fill="#000"/>
<rect x="502" y="418" width="1" height="1" fill="#000"/>
<rect x="512" y="20" width="1" height="1" fill="#000"/>
<rect x="512" y="22" width="1" height="1" fill="#000"/>
<rect x="512" y="420" width="1" height="1" fill="#000"/>
<rect x="512" y="418" width="1" height="1" fill="#000"/>
<rect x="22" y="30" width="1" height="1" fill="#000"/>
<rect x="24" y="30" width="1" height="1" fill="#000"/>
<rect x="521" y="30" width="1" height="1" fill="#000"/>
<rect x="519" y="30" width="1" height="1" fill="#000"/>
<rect x="22" y="40" width="1" height="1" fill="#000"/>
<rect x="24" y="40" width="1" height="1" fill="#000"/>
<rect x="521" y="40" width="1" height="1" fill="#000"/>
<rect x="519" y="40" width="1" height="1" fill="#000"/>
<rect x="22" y="50" width="1" height="1" fill="#000"/>
<rect x="24" y="50" width="1" height="1" fill="#000"/>
<rect x="521" y="50" width="1" height="1" fill="#000"/>
<rect x="519" y="50" width="1" height="1" fill="#000"/>
<rect x="22" y="60" width="1" height="1" fill="#000"/>
<rect x="24" y="60" width="1" height="1" fill="#000"/>
<rect x="521" y="60" width="1" height="1" fill="#000"/>
<rect x="519" y="60" width="1" height="1" fill="#000"/>
<rect x="22" y="80" width="1" height="1" fill="#000"/>
<rect x="24" y="80" width="1" height="1" fill="#000"/>
<rect x="521" y="80" width="1" height="1" fill="#000"/>
<rect x="519" y="80" width="1" height="1" fill="#000"/>
<rect x="22" y="90" width="1" height="1" fill="#000"/>
<rect x="24" y="90" width="1" height="1" fill="#000"/>
<rect x="521" y="90" width="1" height="1" fill="#000"/>
<rect x="519" y="90" width="1" height="1" fill="#000"/>
<rect x="22" y="100" width="1" height="1" fill="#000"/>
<rect x="24" y="100" width="1" height="1" fill="#000"/>
<rect x="521" y="100" width="1" height="1" fill="#000"/>
<rect x="519" y="100" width="1" height="1" fill="#000"/>
<rect x="22" y="110" width="1" height="1" fill="#000"/>
<rect x="24" y="110" width="1" height="1" fill="#000"/>
<rect x="521" y="110" width="1" height="1" fill="#000"/>
<rect x="519" y="110" width="1" height="1" fill="#000"/>
<rect x="22" y="130" width="1" height="1" fill="#000"/>
<rect x="24" y="130" width="1" height="1" fill="#000"/>
<rect x="521" y="130" width="1" height="1" fill="#000"/>
<rect x="519" y="130" width="1" height="1" fill="#000"/>
<rect x="22" y="140" width="1" height="1" fill="#000"/>
<rect x="24" y="140" width="1" height="1" fill="#000"/>
<rect x="521" y="140" width="1" height="1" fill="#000"/>
<rect x="519" y="140" width="1" height="1" fill="#000"/>
<rect x="22" y="150" width="1" height="1" fill="#000"/>
<rect x="24" y="150" width="1" height="1" fill="#000"/>
<rect x="521" y="150" width="1" height="1" fill="#000"/>
<rect x="519" y="150" width="1" height="1" fill="#000"/>
<rect x="22" y="160" width="1" height="1" fill="#000"/>
<rect x="24" y="160" width="1" height="1" fill="#000"/>
<rect x="521" y="160" width="1" height="1" fill="#000"/>
<rect x="519" y="160" width="1" height="1" fill="#000"/>
<rect x="22" y="180" width="1" height="1" fill="#000"/>
<rect x="24" y="180" width="1" height="1" fill="#000"/>
<rect x="521" y="180" width="1" height="1" fill="#000"/>
<rect x="519" y="180" width="1" height="1" fill="#000"/>
<rect x="22" y="190" width="1" height="1" fill="#000"/>
<rect x="24" y="190" width="1" height="1" fill="#000"/>
<rect x="521" y="190" width="1" height="1" fill="#000"/>
<rect x="519" y="190" width="1" height="1" fill="#000"/>
<rect x="22" y="200" width="1" height="1" fill="#000"/>
<rect x="24" y="200" width="1" height="1" fill="#000"/>
<rect x="521" y="200" width="1" height="1" fill="#000"/>
<rect x="519" y="200" width="1" height="1" fill="#000"/>
<rect x="22" y="210" width="1" height="1" fill="#000"/>
<rect x="24" y="210" width="1" height="1" fill="#000"/>
<rect x="521" y="210" width="1" height="1" fill="#000"/>
<rect x="519" y="210" width="1" height="1" fill="#000"/>
<rect x="22" y="230" width="1" height="1" fill="#000"/>
<rect x="24" y="230" width="1" height="1" fill="#000"/>
<rect x="521" y="230" width="1" height="1" fill="#000"/>
<rect x="519" y="230" width="1" height="1" fill="#000"/>
<rect x="22" y="240" width="1" height="1" fill="#000"/>
<rect x="24" y="240" width="1" height="1" fill="#000"/>
<rect x="521" y="240" width="1" height="1" fill="#000"/>
<rect x="519" y="240" width="1" height="1" fill="#000"/>
<rect x="22" y="250" width="1" height="1" fill="#000"/>
<rect x="24" y="250" width="1" height="1" fill="#000"/>
<rect x="521" y="250" width="1" height="1" fill="#000"/>
<rect x="519" y="250" width="1" height="1" fill="#000"/>
<rect x="22" y="260" width="1" height="1" fill="#000"/>
<rect x="24" y="260" width="1" height="1" fill="#000"/>
<rect x="521" y="260" width="1" height="1" fill="#000"/>
<rect x="519" y="260" width="1" height="1" fill="#000"/>
<rect x="22" y="280" width="1" height="1" fill="#000"/>
<rect x="24" y="280" width="1" height="1" fill="#000"/>
<rect x="521" y="280" width="1" height="1" fill="#000"/>
<rect x="519" y="280" width="1" height="1" fill="#000"/>
<rect x="22" y="290" width="1" height="1" fill="#000"/>
<rect x="24" y="290" width="1" height="1" fill="#000"/>
<rect x="521" y="290" width="1" height="1" fill="#000"/>
<rect x="519" y="290" width="1" height="1" fill="#000"/>
<rect x="22" y="300" width="1" height="1" fill="#000"/>
<rect x="24" y="300" width="1" height="1" fill="#000"/>
<rect x="521" y="300" width="1" height="1" fill="#000"/>
<rect x="519" y="300" width="1" height="1" fill="#000"/>
<rect x="22" y="310" width="1" height="1" fill="#000"/>
<rect x="24" y="310" width="1" height="1" fill="#000"/>
<rect x="521" y="310" width="1" height="1" fill="#000"/>
<rect x="519" y="310" width="1" height="1" fill="#000"/>
<rect x="22" y="330" width="1" height="1" fill="#000"/>
<rect x="24" y="330" width="1" height="1" fill="#000"/>
<rect x="521" y="330" width="1" height="1" fill="#000"/>
<rect x="519" y="330" width="1" height="1" fill="#000"/>
<rect x="22" y="340" width="1" height="1" fill="#000"/>
<rect x="24" y="340" width="1" height="1" fill="#000"/>
<rect x="521" y="340" width="1" height="1" fill="#000"/>
<rect x="519" y="340" width="1" height="1" fill="#000"/>
<rect x="22" y="350" width="1" height="1" fill="#000"/>
<rect x="24" y="350" width="1" height="1" fill="#000"/>
<rect x="521" y="350" width="1" height="1" fill="#000"/>
<rect x="519" y="350" width="1" height="1" fill="#000"/>
<rect x="22" y="360" width="1" height="1" fill="#000"/>
<rect x="24" y="360" width="1" height="1" fill="#000"/>
<rect x="521" y="360" width="1" height="1" fill="#000"/>
<rect x="519" y="360" width="1" height="1" fill="#000"/>
<rect x="22" y="380" width="1" height="1" fill="#000"/>
<rect x="24" y="380" width="1" height="1" fill="#000"/>
<rect x="521" y="380" width="1" height="1" fill="#000"/>
<rect x="519" y="380" width="1" height="1" fill="#000"/>
<rect x="22" y="390" width="1" height="1" fill="#000"/>
<rect x="24" y="390" width="1" height="1" fill="#000"/>
<rect x="521" y="390" width="1" height="1" fill="#000"/>
<rect x="519" y="390" width="1" height="1" fill="#000"/>
<rect x="22" y="400" width="1" height="1" fill="#000"/>
<rect x="24" y="400" width="1" height="1" fill="#000"/>
<rect x="521" y="400" width="1" height="1" fill="#000"/>
<rect x="519" y="400" width="1" height="1" fill="#000"/>
<rect x="22" y="410" width="1" height="1" fill="#000"/>
<rect x="24" y="410" width="1" height="1" fill="#000"/>
<rect x="521" y="410" width="1" height="1" fill="#000"/>
<rect x="519" y="410" width="1" height="1" fill="#000"/>
<line x1="72.5" y1="30" x2="72.5" y2="411" stroke="#000" stroke-width="1" stroke-dasharray="1 9"/>
<rect x="72" y="21" width="1" height="1" fill="#000"/>
<rect x="72" y="419" width="1" height="1" fill="#000"/>
<rect x="72" y="218" width="1" height="1" fill="#000"/>
<rect x="72" y="222" width="1" height="1" fill="#000"/>
<rect x="72" y="23" width="1" height="1" fill="#000"/>
<rect x="72" y="417" width="1" height="1" fill="#000"/>
<rect x="72" y="216" width="1" height="1" fill="#000"/>
<rect x="72" y="224" width="1" height="1" fill="#000"/>
<rect x="72" y="25" width="1" height="1" fill="#000"/>
<rect x="72" y="415" width="1" height="1" fill="#000"/>
<rect x="72" y="214" width="1" height="1" fill="#000"/>
<rect x="72" y="226" width="1" height="1" fill="#000"/>
<line x1="122.5" y1="30" x2="122.5" y2="411" stroke="#000" stroke-width="1" stroke-dasharray="1 9"/>
<rect x="122" y="21" width="1" height="1" fill="#000"/>
<rect x="122" y="419" width="1" height="1" fill="#000"/>
<rect x="122" y="218" width="1" height="1" fill="#000"/>
<rect x="122" y="222" width="1" height="1" fill="#000"/>
<rect x="122" y="23" width="1" height="1" fill="#000"/>
<rect x="122" y="417" width="1" height="1" fill="#000"/>
<rect x="122" y="216" width="1" height="1" fill="#000"/>
<rect x="122" y="224" width="1" height="1" fill="#000"/>
<rect x="122" y="25" width="1" height="1" fill="#000"/>
<rect x="122" y="415" width="1" height="1" fill="#000"/>
<rect x="122" y="214" width="1" height="1" fill="#000"/>
<rect x="122" y="226" width="1" height="1" fill="#000"/>
<line x1="172.5" y1="30" x2="172.5" y2="411" stroke="#000" stroke-width="1" stroke-dasharray="1 9"/>
<rect x="172" y="21" width="1" height="1" fill="#000"/>
<rect x="172" y="419" width="1" height="1" fill="#000"/>
<rect x="172" y="218" width="1" height="1" fill="#000"/>
<rect x="172" y="222" width="1" height="1" fill="#000"/>
<rect x="172" y="23" width="1" height="1" fill="#000"/>
<rect x="172" y="417" width="1" height="1" fill="#000"/>
<rect x="172" y="216" width="1" height="1" fill="#000"/>
<rect x="172" y="224" width="1" height="1" fill="#000"/>
<rect x="172" y="25" width="1" height="1" fill="#000"/>
<rect x="172" y="415" width="1" height="1" fill="#000"/>
<rect x="172" y="214" width="1" height="1" fill="#000"/>
<rect x="172" y="226" width="1" height="1" fill="#000"/>
<line x1="222.5" y1="30" x2="222.5" y2="411" stroke="#000" stroke-width="1" stroke-dasharray="1 9"/>
<rect x="222" y="21" width="1" height="1" fill="#000"/>
<rect x="222" y="419" width="1" height="1" fill="#000"/>
<rect x="222" y="218" width="1" height="1" fill="#000"/>
<rect x="222" y="222" width="1" height="1" fill="#000"/>
<rect x="222" y="23" width="1" height="1" fill="#000"/>
<rect x="222" y="417" width="1" height="1" fill="#000"/>
<rect x="222" y="216" width="1" height="1" fill="#000"/>
<rect x="222" y="224" width="1" height="1" fill="#000"/>
<rect x="222" y="25" width="1" height="1" fill="#000"/>
<rect x="222" y="415" width="1" height="1" fill="#000"/>
<rect x="222" y="214" width="1" height="1" fill="#000"/>
<rect x="222" y="226" width="1" height="1" fill="#000"/>
<line x1="322.5" y1="30" x2="322.5" y2="411" stroke="#000" stroke-width="1" stroke-dasharray="1 9"/>
<rect x="322" y="21" width="1" height="1" fill="#000"/>
<rect x="322" y="419" width="1" height="1" fill="#000"/>
<rect x="322" y="218" width="1" height="1" fill="#000"/>
<rect x="322" y="222" width="1" height="1" fill="#000"/>
<rect x="322" y="23" width="1" height="1" fill="#000"/>
<rect x="322" y="417" width="1" height="1" fill="#000"/>
<rect x="322" y="216" width="1" height="1" fill="#000"/>
<rect x="322" y="224" width="1" height="1" fill="#000"/>
<rect x="322" y="25" width="1" height="1" fill="#000"/>
<rect x="322" y="415" width="1" height="1" fill="#000"/>
<rect x="322" y="214" width="1" height="1" fill="#000"/>
<rect x="322" y="226" width="1" height="1" fill="#000"/>
<line x1="372.5" y1="30" x2="372.5" y2="411" stroke="#000" stroke-width="1" stroke-dasharray="1 9"/>
<rect x="372" y="21" width="1" height="1" fill="#000"/>
<rect x="372" y="419" width="1" height="1" fill="#000"/>
<rect x="372" y="218" width="1" height="1" fill="#000"/>
<rect x="372" y="222" width="1" height="1" fill="#000"/>
<rect x="372" y="23" width="1" height="1" fill="#000"/>
<rect x="372" y="417" width="1" height="1" fill="#000"/>
<rect x="372" y="216" width="1" height="1" fill="#000"/>
<rect x="372" y="224" width="1" height="1" fill="#000"/>
<rect x="372" y="25" width="1" height="1" fill="#000"/>
<rect x="372" y="415" width="1" height="1" fill="#000"/>
<rect x="372" y="214" width="1" height="1" fill="#000"/>
<rect x="372" y="226" width="1" height="1" fill="#000"/>
<line x1="422.5" y1="30" x2="422.5" y2="411" stroke="#000" stroke-width="1" stroke-dasharray="1 9"/>
<rect x="422" y="21" width="1" height="1" fill="#000"/>
<rect x="422" y="419" width="1" height="1" fill="#000"/>
<rect x="422" y="218" width="1" height="1" fill="#000"/>
<rect x="422" y="222" width="1" height="1" fill="#000"/>
<rect x="422" y="23" width="1" height="1" fill="#000"/>
<rect x="422" y="417" width="1" height="1" fill="#000"/>
<rect x="422" y="216" width="1" height="1" fill="#000"/>
<rect x="422" y="224" width="1" height="1" fill="#000"/>
<rect x="422" y="25" width="1" height="1" fill="#000"/>
<rect x="422" y="415" width="1" height="1" fill="#000"/>
<rect x="422" y="214" width="1" height="1" fill="#000"/>
<rect x="422" y="226" width="1" height="1" fill="#000"/>
<line x1="472.5" y1="30" x2="472.5" y2="411" stroke="#000" stroke-width="1" stroke-dasharray="1 9"/>
<rect x="472" y="21" width="1" height="1" fill="#000"/>
<rect x="472" y="419" width="1" height="1" fill="#000"/>
<rect x="472" y="218" width="1" height="1" fill="#000"/>
<rect x="472" y="222" width="1" height="1" fill="#000"/>
<rect x="472" y="23" width="1" height="1" fill="#000"/>
<rect x="472" y="417" width="1" height="1" fill="#000"/>
<rect x="472" y="216" width="1" height="1" fill="#000"/>
<rect x="472" y="224" width="1" height="1" fill="#000"/>
<rect x="472" y="25" width="1" height="1" fill="#000"/>
<rect x="472" y="415" width="1" height="1" fill="#000"/>
<rect x="472" y="214" width="1" height="1" fill="#000"/>
<rect x="472" y="226" width="1" height="1" fill="#000"/>
<line x1="32" y1="70.5" x2="513" y2="70.5" stroke="#000" stroke-width="1" stroke-dasharray="1 9"/>
<rect x="23" y="70" width="1" height="1" fill="#000"/>
<rect x="520" y="70" width="1" height="1" fill="#000"/>
<rect x="270" y="70" width="1" height="1" fill="#000"/>
<rect x="274" y="70" width="1" height="1" fill="#000"/>
<rect x="25" y="70" width="1" height="1" fill="#000"/>
<rect x="518" y="70" width="1" height="1" fill="#000"/>
<rect x="268" y="70" width="1" height="1" fill="#000"/>
<rect x="276" y="70" width="1" height="1" fill="#000"/>
<rect x="27" y="70" width="1" height="1" fill="#000"/>
<rect x="516" y="70" width="1" height="1" fill="#000"/>
<rect x="266" y="70" width="1" height="1" fill="#000"/>
<rect x="278" y="70" width="1" height="1" fill="#000"/>
<line x1="32" y1="120.5" x2="513" y2="120.5" stroke="#000" stroke-width="1" stroke-dasharray="1 9"/>
<rect x="23" y="120" width="1" height="1" fill="#000"/>
<rect x="520" y="120" width="1" height="1" fill="#000"/>
<rect x="270" y="120" width="1" height="1" fill="#000"/>
<rect x="274" y="120" width="1" height="1" fill="#000"/>
<rect x="25" y="120" width="1" height="1" fill="#000"/>
<rect x="518" y="120" width="1" height="1" fill="#000"/>
<rect x="268" y="120" width="1" height="1" fill="#000"/>
<rect x="276" y="120" width="1" height="1" fill="#000"/>
<rect x="27" y="120" width="1" height="1" fill="#000"/>
<rect x="516" y="120" width="1" height="1" fill="#000"/>
<rect x="266" y="120" width="1" height="1" fill="#000"/>
<rect x="278" y="120" width="1" height="1" fill="#000"/>
<line x1="32" y1="170.5" x2="513" y2="170.5" stroke="#000" stroke-width="1" stroke-dasharray="1 9"/>
<rect x="23" y="170" width="1" height="1" fill="#000"/>
<rect x="520" y="170" width="1" height="1" fill="#000"/>
<rect x="270" y="170" width="1" height="1" fill="#000"/>
<rect x="274" y="170" width="1" height="1" fill="#000"/>
<rect x="25" y="170" width="1" height="1" fill="#000"/>
<rect x="518" y="170" width="1" height="1" fill="#000"/>
<rect x="268" y="170" width="1" height="1" fill="#000"/>
<rect x="276" y="170" width="1" height="1" fill="#000"/>
<rect x="27" y="170" width="1" height="1" fill="#000"/>
<rect x="516" y="170" width="1" height="1" fill="#000"/>
<rect x="266" y="170" width="1" height="1" fill="#000"/>
<rect x="278" y="170" width="1" height="1" fill="#000"/>
<line x1="32" y1="270.5" x2="513" y2="270.5" stroke="#000" stroke-width="1" stroke-dasharray="1 9"/>
<rect x="23" y="270" width="1" height="1" fill="#000"/>
<rect x="520" y="270" width="1" height="1" fill="#000"/>
<rect x="270" y="270" width="1" height="1" fill="#000"/>
<rect x="274" y="270" width="1" height="1" fill="#000"/>
<rect x="25" y="270" width="1" height="1" fill="#000"/>
<rect x="518" y="270" width="1" height="1" fill="#000"/>
<rect x="268" y="270" width="1" height="1" fill="#000"/>
<rect x="276" y="270" width="1" height="1" fill="#000"/>
<rect x="27" y="270" width="1" height="1" fill="#000"/>
<rect x="516" y="270" width="1" height="1" fill="#000"/>
<rect x="266" y="270" width="1" height="1" fill="#000"/>
<rect x="278" y="270" width="1" height="1" fill="#000"/>
<line x1="32" y1="320.5" x2="513" y2="320.5" stroke="#000" stroke-width="1" stroke-dasharray="1 9"/>
<rect x="23" y="320" width="1" height="1" fill="#000"/>
<rect x="520" y="320" width="1" height="1" fill="#000"/>
<rect x="270" y="320" width="1" height="1" fill="#000"/>
<rect x="274" y="320" width="1" height="1" fill="#000"/>
<rect x="25" y="320" width="1" height="1" fill="#000"/>
<rect x="518" y="320" width="1" height="1" fill="#000"/>
<rect x="268" y="320" width="1" height="1" fill="#000"/>
<rect x="276" y="320" width="1" height="1" fill="#000"/>
<rect x="27" y="320" width="1" height="1" fill="#000"/>
<rect x="516" y="320" width="1" height="1" fill="#000"/>
<rect x="266" y="320" width="1" height="1" fill="#000"/>
<rect x="278" y="320" width="1" height="1" fill="#000"/>
<line x1="32" y1="370.5" x2="513" y2="370.5" stroke="#000" stroke-width="1" stroke-dasharray="1 9"/>
<rect x="23" y="370" width="1" height="1" fill="#000"/>
<rect x="520" y="370" width="1" height="1" fill="#000"/>
<rect x="270" y="370" width="1" height="1" fill="#000"/>
<rect x="274" y="370" width="1" height="1" fill="#000"/>
<rect x="25" y="370" width="1" height="1" fill="#000"/>
<rect x="518" y="370" width="1" height="1" fill="#000"/>
<rect x="268" y="370" width="1" height="1" fill="#000"/>
<rect x="276" y="370" width="1" height="1" fill="#000"/>
<rect x="27" y="370" width="1" height="1" fill="#000"/>
<rect x="516" y="370" width="1" height="1" fill="#000"/>
<rect x="266" y="370" width="1" height="1" fill="#000"/>
<rect x="278" y="370" width="1" height="1" fill="#000"/>
<line x1="272.5" y1="42" x2="272.5" y2="421" stroke="#000" stroke-width="1" stroke-dasharray="1 1"/>
<line x1="22" y1="220.5" x2="523" y2="220.5" stroke="#000" stroke-width="1" stroke-dasharray="1 1"/>
<rect x="269" y="30" width="1" height="1" fill="#000"/>
<rect x="271" y="30" width="3" height="1" fill="#000"/>
<rect x="275" y="30" width="1" height="1" fill="#000"/>
<rect x="269" y="40" width="1" height="1" fill="#000"/>
<rect x="271" y="40" width="3" height="1" fill="#000"/>
<rect x="275" y="40" width="1" height="1" fill="#000"/>
<rect x="269" y="50" width="1" height="1" fill="#000"/>
<rect x="271" y="50" width="3" height="1" fill="#000"/>
<rect x="275" y="50" width="1" height="1" fill="#000"/>
<rect x="269" y="60" width="1" height="1" fill="#000"/>
<rect x="271" y="60" width="3" height="1" fill="#000"/>
<rect x="275" y="60" width="1" height="1" fill="#000"/>
<rect x="269" y="80" width="1" height="1" fill="#000"/>
<rect x="271" y="80" width="3" height="1" fill="#000"/>
<rect x="275" y="80" width="1" height="1" fill="#000"/>
<rect x="269" y="90" width="1" height="1" fill="#000"/>
<rect x="271" y="90" width="3" height="1" fill="#000"/>
<rect x="275" y="90" width="1" height="1" fill="#000"/>
<rect x="269" y="100" width="1" height="1" fill="#000"/>
<rect x="271" y="100" width="3" height="1" fill="#000"/>
<rect x="275" y="100" width="1" height="1" fill="#000"/>
<rect x="269" y="110" width="1" height="1" fill="#000"/>
<rect x="271" y="110" width="3" height="1" fill="#000"/>
<rect x="275" y="110" width="1" height="1" fill="#000"/>
<rect x="269" y="130" width="1" height="1" fill="#000"/>
<rect x="271" y="130" width="3" height="1" fill="#000"/>
<rect x="275" y="130" width="1" height="1" fill="#000"/>
<rect x="269" y="140" width="1" height="1" fill="#000"/>
<rect x="271" y="140" width="3" height="1" fill="#000"/>
<rect x="275" y="140" width="1" height="1" fill="#000"/>
<rect x="269" y="150" width="1" height="1" fill="#000"/>
<rect x="271" y="150" width="3" height="1" fill="#000"/>
<rect x="275" y="150" width="1" height="1" fill="#000"/>
<rect x="269" y="160" width="1" height="1" fill="#000"/>
<rect x="271" y="160" width="3" height="1" fill="#000"/>
<rect x="275" y="160" width="1" height="1" fill="#000"/>
<rect x="269" y="180" width="1" height="1" fill="#000"/>
<rect x="271" y="180" width="3" height="1" fill="#000"/>
<rect x="275" y="180" width="1" height="1" fill="#000"/>
<rect x="269" y="190" width="1" height="1" fill="#000"/>
<rect x="271" y="190" width="3" height="1" fill="#000"/>
<rect x="275" y="190" width="1" height="1" fill="#000"/>
<rect x="269" y="200" width="1" height="1" fill="#000"/>
<rect x="271" y="200" width="3" height="1" fill="#000"/>
<rect x="275" y="200" width="1" height="1" fill="#000"/>
<rect x="269" y="210" width="1" height="1" fill="#000"/>
<rect x="271" y="210" width="3" height="1" fill="#000"/>
<rect x="275" y="210" width="1" height="1" fill="#000"/>
<rect x="269" y="230" width="1" height="1" fill="#000"/>
<rect x="271" y="230" width="3" height="1" fill="#000"/>
<rect x="275" y="230" width="1" height="1" fill="#000"/>
<rect x="269" y="240" width="1" height="1" fill="#000"/>
<rect x="271" y="240" width="3" height="1" fill="#000"/>
<rect x="275" y="240" width="1" height="1" fill="#000"/>
<rect x="269" y="250" width="1" height="1" fill="#000"/>
<rect x="271" y="250" width="3" height="1" fill="#000"/>
<rect x="275" y="250" width="1" height="1" fill="#000"/>
<rect x="269" y="260" width="1" height="1" fill="#000"/>
<rect x="271" y="260" width="3" height="1" fill="#000"/>
<rect x="275" y="260" width="1" height="1" fill="#000"/>
<rect x="269" y="280" width="1" height="1" fill="#000"/>
<rect x="271" y="280" width="3" height="1" fill="#000"/>
<rect x="275" y="280" width="1" height="1" fill="#000"/>
<rect x="269" y="290" width="1" height="1" fill="#000"/>
<rect x="271" y="290" width="3" height="1" fill="#000"/>
<rect x="275" y="290" width="1" height="1" fill="#000"/>
<rect x="269" y="300" width="1" height="1" fill="#000"/>
<rect x="271" y="300" width="3" height="1" fill="#000"/>
<rect x="275" y="300" width="1" height="1" fill="#000"/>
<rect x="269" y="310" width="1" height="1" fill="#000"/>
<rect x="271" y="310" width="3" height="1" fill="#000"/>
<rect x="275" y="310" width="1" height="1" fill="#000"/>
<rect x="269" y="330" width="1" height="1" fill="#000"/>
<rect x="271" y="330" width="3" height="1" fill="#000"/>
<rect x="275" y="330" width="1" height="1" fill="#000"/>
<rect x="269" y="340" width="1" height="1" fill="#000"/>
<rect x="271" y="340" width="3" height="1" fill="#000"/>
<rect x="275" y="340" width="1" height="1" fill="#000"/>
<rect x="269" y="350" width="1" height="1" fill="#000"/>
<rect x="271" y="350" width="3" height="1" fill="#000"/>
<rect x="275" y="350" width="1" height="1" fill="#000"/>
<rect x="269" y="360" width="1" height="1" fill="#000"/>
<rect x="271" y="360" width="3" height="1" fill="#000"/>
<rect x="275" y="360" width="1" height="1" fill="#000"/>
<rect x="269" y="380" width="1" height="1" fill="#000"/>
<rect x="271" y="380" width="3" height="1" fill="#000"/>
<rect x="275" y="380" width="1" height="1" fill="#000"/>
<rect x="269" y="390" width="1" height="1" fill="#000"/>
<rect x="271" y="390" width="3" height="1" fill="#000"/>
<rect x="275" y="390" width="1" height="1" fill="#000"/>
<rect x="269" y="400" width="1" height="1" fill="#000"/>
<rect x="271" y="400" width="3" height="1" fill="#000"/>
<rect x="275" y="400" width="1" height="1" fill="#000"/>
<rect x="269" y="410" width="1" height="1" fill="#000"/>
<rect x="271" y="410" width="3" height="1" fill="#000"/>
<rect x="275" y="410" width="1" height="1" fill="#000"/>
<rect x="32" y="217" width="1" height="1" fill="#000"/>
<rect x="32" y="219" width="1" height="3" fill="#000"/>
<rect x="32" y="223" width="1" height="1" fill="#000"/>
<rect x="42" y="217" width="1" height="1" fill="#000"/>
<rect x="42" y="219" width="1" height="3" fill="#000"/>
<rect x="42" y="223" width="1" height="1" fill="#000"/>
<rect x="52" y="217" width="1" height="1" fill="#000"/>
<rect x="52" y="219" width="1" height="3" fill="#000"/>
<rect x="52" y="223" width="1" height="1" fill="#000"/>
<rect x="62" y="217" width="1" height="1" fill="#000"/>
<rect x="62" y="219" width="1" height="3" fill="#000"/>
<rect x="62" y="223" width="1" height="1" fill="#000"/>
<rect x="82" y="217" width="1" height="1" fill="#000"/>
<rect x="82" y="219" width="1" height="3" fill="#000"/>
<rect x="82" y="223" width="1" height="1" fill="#000"/>
<rect x="92" y="217" width="1" height="1" fill="#000"/>
<rect x="92" y="219" width="1" height="3" fill="#000"/>
<rect x="92" y="223" width="1" height="1" fill="#000"/>
<rect x="102" y="217" width="1" height="1" fill="#000"/>
<rect x="102" y="219" width="1" height="3" fill="#000"/>
<rect x="102" y="223" width="1" height="1" fill="#000"/>
<rect x="112" y="217" width="1" height="1" fill="#000"/>
<rect x="112" y="219" width="1" height="3" fill="#000"/>
<rect x="112" y="223" width="1" height="1" fill="#000"/>
<rect x="132" y="217" width="1" height="1" fill="#000"/>
<rect x="132" y="219" width="1" height="3" fill="#000"/>
<rect x="132" y="223" width="1" height="1" fill="#000"/>
<rect x="142" y="217" width="1" height="1" fill="#000"/>
<rect x="142" y="219" width="1" height="3" fill="#000"/>
<rect x="142" y="223" width="1" height="1" fill="#000"/>
<rect x="152" y="217" width="1" height="1" fill="#000"/>
<rect x="152" y="219" width="1" height="3" fill="#000"/>
<rect x="152" y="223" width="1" height="1" fill="#000"/>
<rect x="162" y="217" width="1" height="1" fill="#000"/>
<rect x="162" y="219" width="1" height="3" fill="#000"/>
<rect x="162" y="223" width="1" height="1" fill="#000"/>
<rect x="182" y="217" width="1" height="1" fill="#000"/>
<rect x="182" y="219" width="1" height="3" fill="#000"/>
<rect x="182" y="223" width="1" height="1" fill="#000"/>
<rect x="192" y="217" width="1" height="1" fill="#000"/>
<rect x="192" y="219" width="1" height="3" fill="#000"/>
<rect x="192" y="223" width="1" height="1" fill="#000"/>
<rect x="202" y="217" width="1" height="1" fill="#000"/>
<rect x="202" y="219" width="1" height="3" fill="#000"/>
<rect x="202" y="223" width="1" height="1" fill="#000"/>
<rect x="212" y="217" width="1" height="1" fill="#000"/>
<rect x="212" y="219" width="1" height="3" fill="#000"/>
<rect x="212" y="223" width="1" height="1" fill="#000"/>
<rect x="232" y="217" width="1" height="1" fill="#000"/>
<rect x="232" y="219" width="1" height="3" fill="#000"/>
<rect x="232" y="223" width="1" height="1" fill="#000"/>
<rect x="242" y="217" width="1" height="1" fill="#000"/>
<rect x="242" y="219" width="1" height="3" fill="#000"/>
<rect x="242" y="223" width="1" height="1" fill="#000"/>
<rect x="252" y="217" width="1" height="1" fill="#000"/>
<rect x="252" y="219" width="1" height="3" fill="#000"/>
<rect x="252" y="223" width="1" height="1" fill="#000"/>
<rect x="262" y="217" width="1" height="1" fill="#000"/>
<rect x="262" y="219" width="1" height="3" fill="#000"/>
<rect x="262" y="223" width="1" height="1" fill="#000"/>
<rect x="282" y="217" width="1" height="1" fill="#000"/>
<rect x="282" y="219" width="1" height="3" fill="#000"/>
<rect x="282" y="223" width="1" height="1" fill="#000"/>
<rect x="292" y="217" width="1" height="1" fill="#000"/>
<rect x="292" y="219" width="1" height="3" fill="#000"/>
<rect x="292" y="223" width="1" height="1" fill="#000"/>
<rect x="302" y="217" width="1" height="1" fill="#000"/>
<rect x="302" y="219" width="1" height="3" fill="#000"/>
<rect x="302" y="223" width="1" height="1" fill="#000"/>
<rect x="312" y="217" width="1" height="1" fill="#000"/>
<rect x="312" y="219" width="1" height="3" fill="#000"/>
<rect x="312" y="223" width="1" height="1" fill="#000"/>
<rect x="332" y="217" width="1" height="1" fill="#000"/>
<rect x="332" y="219" width="1" height="3" fill="#000"/>
<rect x="332" y="223" width="1" height="1" fill="#000"/>
<rect x="342" y="217" width="1" height="1" fill="#000"/>
<rect x="342" y="219" width="1" height="3" fill="#000"/>
<rect x="342" y="223" width="1" height="1" fill="#000"/>
<rect x="352" y="217" width="1" height="1" fill="#000"/>
<rect x="352" y="219" width="1" height="3" fill="#000"/>
<rect x="352" y="223" width="1" height="1" fill="#000"/>
<rect x="362" y="217" width="1" height="1" fill="#000"/>
<rect x="362" y="219" width="1" height="3" fill="#000"/>
<rect x="362" y="223" width="1" height="1" fill="#000"/>
<rect x="382" y="217" width="1" height="1" fill="#000"/>
<rect x="382" y="219" width="1" height="3" fill="#000"/>
<rect x="382" y="223" width="1" height="1" fill="#000"/>
<rect x="392" y="217" width="1" height="1" fill="#000"/>
<rect x="392" y="219" width="1" height="3" fill="#000"/>
<rect x="392" y="223" width="1" height="1" fill="#000"/>
<rect x="402" y="217" width="1" height="1" fill="#000"/>
<rect x="402" y="219" width="1" height="3" fill="#000"/>
<rect x="402" y="223" width="1" height="1" fill="#000"/>
<rect x="412" y="217" width="1" height="1" fill="#000"/>
<rect x="412" y="219" width="1" height="3" fill="#000"/>
<rect x="412" y="223" width="1" height="1" fill="#000"/>
<rect x="432" y="217" width="1" height="1" fill="#000"/>
<rect x="432" y="219" width="1" height="3" fill="#000"/>
<rect x="432" y="223" width="1" height="1" fill="#000"/>
<rect x="442" y="217" width="1" height="1" fill="#000"/>
<rect x="442" y="219" width="1" height="3" fill="#000"/>
<rect x="442" y="223" width="1" height="1" fill="#000"/>
<rect x="452" y="217" width="1" height="1" fill="#000"/>
<rect x="452" y="219" width="1" height="3" fill="#000"/>
<rect x="452" y="223" width="1" height="1" fill="#000"/>
<rect x="462" y="217" width="1" height="1" fill="#000"/>
<rect x="462" y="219" width="1" height="3" fill="#000"/>
<rect x="462" y="223" width="1" height="1" fill="#000"/>
<rect x="482" y="217" width="1" height="1" fill="#000"/>
<rect x="482" y="219" width="1" height="3" fill="#000"/>
<rect x="482" y="223" width="1" height="1" fill="#000"/>
<rect x="492" y="217" width="1" height="1" fill="#000"/>
<rect x="492" y="219" width="1" height="3" fill="#000"/>
<rect x="492" y="223" width="1" height="1" fill="#000"/>
<rect x="502" y="217" width="1" height="1" fill="#000"/>
<rect x="502" y="219" width="1" height="3" fill="#000"/>
<rect x="502" y="223" width="1" height="1" fill="#000"/>
<rect x="512" y="217" width="1" height="1" fill="#000"/>
<rect x="512" y="219" width="1" height="3" fill="#000"/>
<rect x="512" y="223" width="1" height="1" fill="#000"/>
</g>
<g shape-rendering="crispEdges">
<rect x="1" y="112" width="11" height="16" fill="#000090" />
<rect x="12" y="112" width="1" height="1" fill="#000090" />
<rect x="12" y="128" width="1" height="1" fill="#000090" />
<rect x="12" y="113" width="2" height="1" fill="#000090" />
<rect x="12" y="127" width="2" height="1" fill="#000090" />
<rect x="12" y="114" width="3" height="1" fill="#000090" />
<rect x="12" y="126" width="3" height="1" fill="#000090" />
<rect x="12" y="115" width="4" height="1" fill="#000090" />
<rect x="12" y="125" width="4" height="1" fill="#000090" />
<rect x="12" y="116" width="5" height="1" fill="#000090" />
<rect x="12" y="124" width="5" height="1" fill="#000090" />
<rect x="12" y="117" width="6" height="1" fill="#000090" />
<rect x="12" y="123" width="6" height="1" fill="#000090" />
<rect x="12" y="118" width="7" height="1" fill="#000090" />
<rect x="12" y="122" width="7" height="1" fill="#000090" />
<rect x="12" y="119" width="8" height="1" fill="#000090" />
<rect x="12" y="121" width="8" height="1" fill="#000090" />
<rect x="12" y="120" width="9" height="1" fill="#000090" />
<rect x="12" y="113" width="1" height="1" fill="#c4bc9c"/>
<rect x="12" y="127" width="1" height="1" fill="#c4bc9c"/>
<rect x="13" y="114" width="1" height="1" fill="#c4bc9c"/>
<rect x="13" y="126" width="1" height="1" fill="#c4bc9c"/>
<rect x="14" y="115" width="1" height="1" fill="#c4bc9c"/>
<rect x="14" y="125" width="1" height="1" fill="#c4bc9c"/>
<rect x="15" y="116" width="1" height="1" fill="#c4bc9c"/>
<rect x="15" y="124" width="1" height="1" fill="#c4bc9c"/>
<rect x="16" y="117" width="1" height="1" fill="#c4bc9c"/>
<rect x="16" y="123" width="1" height="1" fill="#c4bc9c"/>
<rect x="17" y="118" width="1" height="1" fill="#c4bc9c"/>
<rect x="17" y="122" width="1" height="1" fill="#c4bc9c"/>
<rect x="18" y="119" width="1" height="1" fill="#c4bc9c"/>
<rect x="18" y="121" width="1" height="1" fill="#c4bc9c"/>
<rect x="1" y="112" width="11" height="1" fill="#5c5c98" />
<rect x="0" y="112" width="1" height="16" fill="#a0a090" />
<rect x="1" y="128" width="11" height="1" fill="#fff" />
<path d="M1 128.5H12" stroke="#000090" stroke-width="1" stroke-dasharray="1 1"/>
</g>
<text x="4.4" y="126" font-family="'Liberation Sans',sans-serif" font-weight="bold" font-size="16" fill="#fff">1</text>
<path d="M3 123.6H7.9V126.4H3ZM10.1 123.6H13V126.4H10.1Z" fill="#000090"/>
<path d="M0.5 328V312.5H12.5L20.5 320.5L12.5 328.5" fill="none" stroke="#009090" stroke-width="1.2"/>
<line x1="1" y1="328.5" x2="12" y2="328.5" stroke="#009090" stroke-width="1" stroke-dasharray="1 1"/>
<text x="4.2" y="326" font-family="'Liberation Sans',sans-serif" font-weight="bold" font-size="15" fill="#009090">2</text>
<rect x="510" y="108" width="12" height="12" fill="#fff" />
<path d="M511 114.5L517 109V120Z" fill="#000090"/>
<rect x="516" y="114" width="6" height="1" fill="#000090"/>
<rect x="92" y="0" width="1" height="17" fill="#808080" />
<rect x="451" y="0" width="1" height="17" fill="#c0c0c0" />
<g shape-rendering="crispEdges">
<rect x="164" y="8" width="216" height="1" fill="#0000a0" />
<path d="M164 1h3v1h-1.8v13h1.8v1h-3z" fill="#000" shape-rendering="auto"/>
<path d="M380.2 1h-3v1h1.8v13h-1.8v1h3z" fill="#000" shape-rendering="auto"/>
</g>
<path d="M268.5 1H276.5L272.5 5Z" fill="#ff7000"/>
<path d="M269 5H275.2L276.2 6V14.6L275.2 16H269L268 14.6V6Z" fill="#ff7000"/>
<path d="M269 5.8H275.3V7.2H273.2V14.6H271V7.2H269Z" fill="#fff"/>
<path d="M266.5 20H278.5L272.5 26Z" fill="#ff7000"/>
<path d="M267.2 27H277L278.2 28.2V38.6L277 40.2L275.4 41.2L273.2 42.2H271.6L269 41.2L267.4 40.2L266 38.6V28.2Z" fill="#ff7000"/>
<path d="M267.4 28H277V30.2H273.4V39.2H271V30.2H267.4Z" fill="#fff"/>
<g shape-rendering="crispEdges">
<rect x="19" y="425" width="31" height="16" fill="#000090" />
<rect x="51" y="424" width="99" height="1" fill="#808080" />
<rect x="51" y="424" width="1" height="18" fill="#808080" />
<rect x="51" y="441" width="99" height="1" fill="#a8a8a8" />
<rect x="149" y="424" width="1" height="18" fill="#a8a8a8" />
<rect x="183" y="424" width="99" height="1" fill="#808080" />
<rect x="183" y="424" width="1" height="18" fill="#808080" />
<rect x="183" y="441" width="99" height="1" fill="#a8a8a8" />
<rect x="281" y="424" width="1" height="18" fill="#a8a8a8" />
<rect x="297" y="424" width="61" height="1" fill="#808080" />
<rect x="297" y="424" width="1" height="18" fill="#808080" />
<rect x="297" y="441" width="61" height="1" fill="#a8a8a8" />
<rect x="357" y="424" width="1" height="18" fill="#a8a8a8" />
<rect x="384" y="424" width="1" height="18" fill="#808080" />
<rect x="384" y="441" width="141" height="1" fill="#a8a8a8" />
<rect x="524" y="424" width="1" height="18" fill="#a8a8a8" />
<rect x="324" y="462" width="102" height="1" fill="#808080" />
<rect x="324" y="462" width="1" height="18" fill="#808080" />
<rect x="324" y="479" width="102" height="1" fill="#a8a8a8" />
<rect x="425" y="462" width="1" height="18" fill="#a8a8a8" />
</g>
<path d="M438.8 437H443L446.4 429H451.2" fill="none" stroke="#000" stroke-width="2.2" stroke-linejoin="miter"/>
<rect x="286" y="464" width="12" height="13" rx="2" fill="#ff7000"/>
<path d="M287.6 465.6H296.4V468H293.3V475.8H290.7V468H287.6Z" fill="#fff"/>
<path d="M299 470H304V467.2L308.3 470.5L304 473.8V471H299Z" fill="#ff7000"/>
<path d="M309 467H320.5L314.7 473.5Z" fill="#ff7000"/>
<text x="0" y="0" font-family="'Liberation Serif',serif" font-size="20" font-weight="bold" fill="#000" text-anchor="start" textLength="31.00" lengthAdjust="spacing"  transform="translate(0 14.5) scale(1 1)" xml:space="preserve">Tek</text>
<text x="0" y="0" font-family="'DejaVu Sans','Liberation Sans',sans-serif" font-size="14.5" font-weight="normal" fill="#000" stroke="#000" stroke-width="0.5" stroke-linejoin="round" text-anchor="start" textLength="31.00" lengthAdjust="spacing"  transform="translate(35.2 12.5) scale(1.0 1.06)" xml:space="preserve">Run</text>
<text x="0" y="0" font-family="'DejaVu Sans','Liberation Sans',sans-serif" font-size="14.5" font-weight="normal" fill="#000" stroke="#000" stroke-width="0.5" stroke-linejoin="round" text-anchor="start" textLength="47.80" lengthAdjust="spacing"  transform="translate(456.3 12.5) scale(1.0 1.06)" xml:space="preserve">Trig’d</text>
<text transform="translate(530.6 33) scale(1.28 1.06)" font-family="'DejaVu Sans','Liberation Sans',sans-serif" font-size="14" fill="#000090" stroke="#000090" stroke-width="0.4">Δ</text>
<text x="0" y="0" font-family="'DejaVu Sans','Liberation Sans',sans-serif" font-size="14" font-weight="normal" fill="#000090" stroke="#000090" stroke-width="0.5" stroke-linejoin="round" text-anchor="start"  transform="translate(545.2 33) scale(1.0 1.06)" xml:space="preserve">:</text>
<text x="0" y="0" font-family="'DejaVu Sans','Liberation Sans',sans-serif" font-size="14" font-weight="normal" fill="#000090" stroke="#000090" stroke-width="0.5" stroke-linejoin="round" text-anchor="start" textLength="49.50" lengthAdjust="spacing"  transform="translate(574 33) scale(1.0 1.06)" xml:space="preserve">2.34 V</text>
<text x="0" y="0" font-family="'DejaVu Sans','Liberation Sans',sans-serif" font-size="12.5" font-weight="normal" fill="#000090" stroke="#000090" stroke-width="0.5" stroke-linejoin="round" text-anchor="start"  transform="translate(531 48.5) scale(1.0 1.06)" xml:space="preserve">@</text>
<text x="0" y="0" font-family="'DejaVu Sans','Liberation Sans',sans-serif" font-size="14" font-weight="normal" fill="#000090" stroke="#000090" stroke-width="0.5" stroke-linejoin="round" text-anchor="start"  transform="translate(545.2 49) scale(1.0 1.06)" xml:space="preserve">:</text>
<text x="0" y="0" font-family="'DejaVu Sans','Liberation Sans',sans-serif" font-size="14" font-weight="normal" fill="#000090" stroke="#000090" stroke-width="0.5" stroke-linejoin="round" text-anchor="start" textLength="61.50" lengthAdjust="spacing"  transform="translate(567 49) scale(1.0 1.06)" xml:space="preserve">−1.34 V</text>
<text x="0" y="0" font-family="'DejaVu Sans','Liberation Sans',sans-serif" font-size="14" font-weight="normal" fill="#000090" stroke="#000090" stroke-width="0.5" stroke-linejoin="round" text-anchor="start" textLength="72.20" lengthAdjust="spacing"  transform="translate(548 154.5) scale(1.0 1.06)" xml:space="preserve">Ch1 Freq</text>
<text x="0" y="0" font-family="'DejaVu Sans','Liberation Sans',sans-serif" font-size="14" font-weight="normal" fill="#000090" stroke="#000090" stroke-width="0.5" stroke-linejoin="round" text-anchor="start" textLength="71.50" lengthAdjust="spacing"  transform="translate(548 170.5) scale(1.0 1.06)" xml:space="preserve">231.3 Hz</text>
<text x="0" y="0" font-family="'DejaVu Sans','Liberation Sans',sans-serif" font-size="14" font-weight="normal" fill="#000090" stroke="#000090" stroke-width="0.5" stroke-linejoin="round" text-anchor="start" textLength="79.80" lengthAdjust="spacing"  transform="translate(544.5 225.5) scale(1.0 1.06)" xml:space="preserve">Ch1 Ampl</text>
<text x="0" y="0" font-family="'DejaVu Sans','Liberation Sans',sans-serif" font-size="14" font-weight="normal" fill="#000090" stroke="#000090" stroke-width="0.5" stroke-linejoin="round" text-anchor="start" textLength="50.00" lengthAdjust="spacing"  transform="translate(558.5 241) scale(1.0 1.06)" xml:space="preserve">2.62 V</text>
<text x="0" y="0" font-family="'DejaVu Sans','Liberation Sans',sans-serif" font-size="14" font-weight="normal" fill="#009090" stroke="#009090" stroke-width="0.5" stroke-linejoin="round" text-anchor="start" textLength="79.80" lengthAdjust="spacing"  transform="translate(544.5 296) scale(1.0 1.06)" xml:space="preserve">Ch2 Ampl</text>
<text x="0" y="0" font-family="'DejaVu Sans','Liberation Sans',sans-serif" font-size="14" font-weight="normal" fill="#009090" stroke="#009090" stroke-width="0.5" stroke-linejoin="round" text-anchor="start" textLength="54.00" lengthAdjust="spacing"  transform="translate(556.5 312) scale(1.0 1.06)" xml:space="preserve">240mV</text>
<text x="0" y="0" font-family="'DejaVu Sans','Liberation Sans',sans-serif" font-size="14" font-weight="normal" fill="#fff" stroke="#fff" stroke-width="0.5" stroke-linejoin="round" text-anchor="start" textLength="28.50" lengthAdjust="spacing"  transform="translate(20 438) scale(1.0 1.06)" xml:space="preserve">Ch1</text>
<text x="0" y="0" font-family="'DejaVu Sans','Liberation Sans',sans-serif" font-size="14" font-weight="normal" fill="#000090" stroke="#000090" stroke-width="0.5" stroke-linejoin="round" text-anchor="start" textLength="51.00" lengthAdjust="spacing"  transform="translate(69 438) scale(1.0 1.06)" xml:space="preserve">1.00 V</text>
<text x="0" y="0" font-family="'DejaVu Sans','Liberation Sans',sans-serif" font-size="14" font-weight="normal" fill="#009090" stroke="#009090" stroke-width="0.5" stroke-linejoin="round" text-anchor="start" textLength="30.00" lengthAdjust="spacing"  transform="translate(151 438) scale(1.0 1.06)" xml:space="preserve">Ch2</text>
<text x="0" y="0" font-family="'DejaVu Sans','Liberation Sans',sans-serif" font-size="14" font-weight="normal" fill="#009090" stroke="#009090" stroke-width="0.5" stroke-linejoin="round" text-anchor="start" textLength="51.50" lengthAdjust="spacing"  transform="translate(200.2 438) scale(1.0 1.06)" xml:space="preserve">2.00 V</text>
<text x="0" y="0" font-family="'DejaVu Sans','Liberation Sans',sans-serif" font-size="14" font-weight="normal" fill="#000" stroke="#000" stroke-width="0.25" stroke-linejoin="round" text-anchor="start"  transform="translate(283.6 438) scale(1.0 1.06)" xml:space="preserve">M</text>
<text x="0" y="0" font-family="'DejaVu Sans','Liberation Sans',sans-serif" font-size="14" font-weight="normal" fill="#000" stroke="#000" stroke-width="0.5" stroke-linejoin="round" text-anchor="start" textLength="57.60" lengthAdjust="spacing"  transform="translate(299.2 438) scale(1.0 1.06)" xml:space="preserve">2.00ms</text>
<text x="0" y="0" font-family="'DejaVu Sans','Liberation Sans',sans-serif" font-size="14" font-weight="normal" fill="#000" stroke="#000" stroke-width="0.25" stroke-linejoin="round" text-anchor="start"  transform="translate(373 438) scale(1.0 1.06)" xml:space="preserve">A</text>
<text x="0" y="0" font-family="'DejaVu Sans','Liberation Sans',sans-serif" font-size="14" font-weight="normal" fill="#000090" stroke="#000090" stroke-width="0.5" stroke-linejoin="round" text-anchor="start" textLength="28.50" lengthAdjust="spacing"  transform="translate(397.5 438) scale(1.0 1.06)" xml:space="preserve">Ch1</text>
<text x="0" y="0" font-family="'DejaVu Sans','Liberation Sans',sans-serif" font-size="14" font-weight="normal" fill="#000" stroke="#000" stroke-width="0.5" stroke-linejoin="round" text-anchor="start" textLength="53.40" lengthAdjust="spacing"  transform="translate(470.2 438) scale(1.0 1.06)" xml:space="preserve">120mV</text>
<text x="0" y="0" font-family="'DejaVu Sans','Liberation Sans',sans-serif" font-size="14" font-weight="normal" fill="#000" stroke="#000" stroke-width="0.5" stroke-linejoin="round" text-anchor="start" textLength="76.00" lengthAdjust="spacing"  transform="translate(327 475.5) scale(1.0 1.06)" xml:space="preserve">0.00000 s</text>
<text x="0" y="0" font-family="'DejaVu Sans','Liberation Sans',sans-serif" font-size="14" font-weight="normal" fill="#000" stroke="#000" stroke-width="0.5" stroke-linejoin="round" text-anchor="start" textLength="92.50" lengthAdjust="spacing"  transform="translate(547.2 459.5) scale(1.0 1.06)" xml:space="preserve">1 Mar  2011</text>
<text x="0" y="0" font-family="'DejaVu Sans','Liberation Sans',sans-serif" font-size="14" font-weight="normal" fill="#000" stroke="#000" stroke-width="0.5" stroke-linejoin="round" text-anchor="start" textLength="71.00" lengthAdjust="spacing"  transform="translate(537.4 475.5) scale(1.0 1.06)" xml:space="preserve">16:53:46</text>
</svg>
</body>
</html>
